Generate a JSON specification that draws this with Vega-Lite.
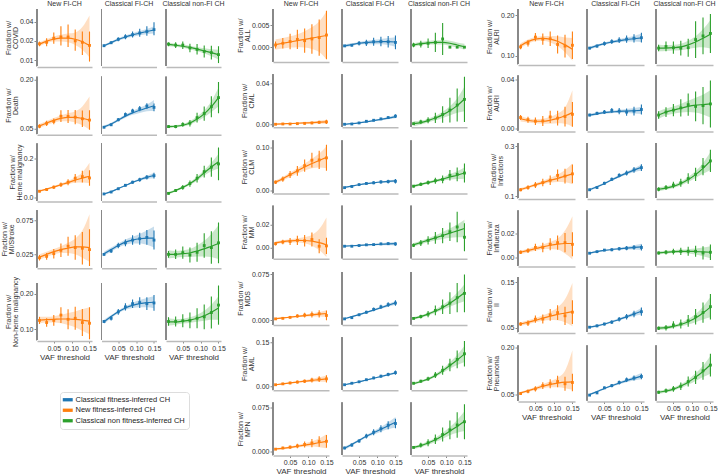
{
"$schema":"https://vega.github.io/schema/vega-lite/v6.json",
"padding":{"left":0,"top":0,"right":0,"bottom":0},
"datasets":{"d":[
{"o":"COVID","g":"N","x":0.01,"y":0.018,"l":0.0165,"h":0.0195,"f":0.0178,"a":0.0165,"b":0.019},
{"o":"COVID","g":"N","x":0.03,"y":0.019,"l":0.0165,"h":0.022,"f":0.0198,"a":0.0185,"b":0.0212},
{"o":"COVID","g":"N","x":0.05,"y":0.022,"l":0.018,"h":0.027,"f":0.0213,"a":0.0195,"b":0.0235},
{"o":"COVID","g":"N","x":0.07,"y":0.023,"l":0.017,"h":0.034,"f":0.0221,"a":0.0195,"b":0.025},
{"o":"COVID","g":"N","x":0.09,"y":0.023,"l":0.016,"h":0.036,"f":0.0221,"a":0.019,"b":0.026},
{"o":"COVID","g":"N","x":0.11,"y":0.02,"l":0.014,"h":0.03,"f":0.0212,"a":0.0172,"b":0.027},
{"o":"COVID","g":"N","x":0.13,"y":0.019,"l":0.012,"h":0.028,"f":0.0194,"a":0.0145,"b":0.033},
{"o":"COVID","g":"N","x":0.15,"y":0.017,"l":0.0095,"h":0.028,"f":0.017,"a":0.011,"b":0.05},
{"o":"COVID","g":"C","x":0.01,"y":0.0168,"l":0.016,"h":0.0176,"f":0.0168,"a":0.016,"b":0.0176},
{"o":"COVID","g":"C","x":0.03,"y":0.0187,"l":0.0178,"h":0.0197,"f":0.0188,"a":0.018,"b":0.0196},
{"o":"COVID","g":"C","x":0.05,"y":0.0212,"l":0.0198,"h":0.0228,"f":0.021,"a":0.0201,"b":0.022},
{"o":"COVID","g":"C","x":0.07,"y":0.0232,"l":0.0213,"h":0.0255,"f":0.023,"a":0.0218,"b":0.0243},
{"o":"COVID","g":"C","x":0.09,"y":0.025,"l":0.0225,"h":0.028,"f":0.0248,"a":0.0233,"b":0.0264},
{"o":"COVID","g":"C","x":0.11,"y":0.0265,"l":0.0232,"h":0.031,"f":0.0264,"a":0.0245,"b":0.0285},
{"o":"COVID","g":"C","x":0.13,"y":0.028,"l":0.024,"h":0.034,"f":0.028,"a":0.0255,"b":0.0308},
{"o":"COVID","g":"C","x":0.15,"y":0.03,"l":0.0245,"h":0.039,"f":0.0296,"a":0.026,"b":0.034},
{"o":"COVID","g":"X","x":0.01,"y":0.0178,"l":0.0165,"h":0.019,"f":0.0176,"a":0.0165,"b":0.0188},
{"o":"COVID","g":"X","x":0.03,"y":0.0172,"l":0.0155,"h":0.019,"f":0.0171,"a":0.0162,"b":0.018},
{"o":"COVID","g":"X","x":0.05,"y":0.0172,"l":0.015,"h":0.0195,"f":0.0165,"a":0.0156,"b":0.0175},
{"o":"COVID","g":"X","x":0.07,"y":0.0155,"l":0.0133,"h":0.018,"f":0.0158,"a":0.0148,"b":0.0168},
{"o":"COVID","g":"X","x":0.09,"y":0.0147,"l":0.0122,"h":0.0178,"f":0.0149,"a":0.0138,"b":0.016},
{"o":"COVID","g":"X","x":0.11,"y":0.0137,"l":0.011,"h":0.017,"f":0.014,"a":0.0127,"b":0.0153},
{"o":"COVID","g":"X","x":0.13,"y":0.0131,"l":0.0102,"h":0.0168,"f":0.0131,"a":0.0115,"b":0.0148},
{"o":"COVID","g":"X","x":0.15,"y":0.0122,"l":0.009,"h":0.0165,"f":0.0122,"a":0.0102,"b":0.0145},
{"o":"Death","g":"N","x":0.01,"y":0.057,"l":0.051,"h":0.063,"f":0.058,"a":0.052,"b":0.064},
{"o":"Death","g":"N","x":0.03,"y":0.066,"l":0.058,"h":0.074,"f":0.067,"a":0.061,"b":0.073},
{"o":"Death","g":"N","x":0.05,"y":0.072,"l":0.063,"h":0.081,"f":0.075,"a":0.068,"b":0.082},
{"o":"Death","g":"N","x":0.07,"y":0.088,"l":0.07,"h":0.106,"f":0.081,"a":0.072,"b":0.09},
{"o":"Death","g":"N","x":0.09,"y":0.087,"l":0.067,"h":0.107,"f":0.084,"a":0.072,"b":0.097},
{"o":"Death","g":"N","x":0.11,"y":0.085,"l":0.063,"h":0.107,"f":0.084,"a":0.068,"b":0.103},
{"o":"Death","g":"N","x":0.13,"y":0.08,"l":0.055,"h":0.105,"f":0.081,"a":0.06,"b":0.118},
{"o":"Death","g":"N","x":0.15,"y":0.076,"l":0.046,"h":0.106,"f":0.076,"a":0.046,"b":0.148},
{"o":"Death","g":"C","x":0.01,"y":0.054,"l":0.051,"h":0.057,"f":0.055,"a":0.051,"b":0.059},
{"o":"Death","g":"C","x":0.03,"y":0.0615,"l":0.0575,"h":0.0655,"f":0.064,"a":0.06,"b":0.068},
{"o":"Death","g":"C","x":0.05,"y":0.077,"l":0.072,"h":0.082,"f":0.076,"a":0.072,"b":0.08},
{"o":"Death","g":"C","x":0.07,"y":0.093,"l":0.087,"h":0.099,"f":0.088,"a":0.083,"b":0.093},
{"o":"Death","g":"C","x":0.09,"y":0.104,"l":0.097,"h":0.111,"f":0.098,"a":0.092,"b":0.104},
{"o":"Death","g":"C","x":0.11,"y":0.111,"l":0.103,"h":0.119,"f":0.106,"a":0.098,"b":0.114},
{"o":"Death","g":"C","x":0.13,"y":0.119,"l":0.11,"h":0.128,"f":0.113,"a":0.103,"b":0.124},
{"o":"Death","g":"C","x":0.15,"y":0.115,"l":0.103,"h":0.127,"f":0.12,"a":0.104,"b":0.138},
{"o":"Death","g":"X","x":0.01,"y":0.056,"l":0.052,"h":0.06,"f":0.056,"a":0.051,"b":0.061},
{"o":"Death","g":"X","x":0.03,"y":0.056,"l":0.051,"h":0.061,"f":0.057,"a":0.053,"b":0.061},
{"o":"Death","g":"X","x":0.05,"y":0.0625,"l":0.0555,"h":0.0695,"f":0.06,"a":0.056,"b":0.064},
{"o":"Death","g":"X","x":0.07,"y":0.0665,"l":0.0565,"h":0.0765,"f":0.067,"a":0.062,"b":0.073},
{"o":"Death","g":"X","x":0.09,"y":0.0835,"l":0.0685,"h":0.0985,"f":0.079,"a":0.072,"b":0.087},
{"o":"Death","g":"X","x":0.11,"y":0.096,"l":0.074,"h":0.118,"f":0.095,"a":0.085,"b":0.106},
{"o":"Death","g":"X","x":0.13,"y":0.117,"l":0.085,"h":0.149,"f":0.117,"a":0.101,"b":0.134},
{"o":"Death","g":"X","x":0.15,"y":0.145,"l":0.097,"h":0.193,"f":0.145,"a":0.118,"b":0.175},
{"o":"Heme","g":"N","x":0.01,"y":0.032,"l":0.027,"h":0.037,"f":0.033,"a":0.028,"b":0.038},
{"o":"Heme","g":"N","x":0.03,"y":0.041,"l":0.034,"h":0.048,"f":0.043,"a":0.038,"b":0.048},
{"o":"Heme","g":"N","x":0.05,"y":0.053,"l":0.044,"h":0.062,"f":0.054,"a":0.049,"b":0.059},
{"o":"Heme","g":"N","x":0.07,"y":0.066,"l":0.054,"h":0.078,"f":0.066,"a":0.06,"b":0.072},
{"o":"Heme","g":"N","x":0.09,"y":0.079,"l":0.063,"h":0.095,"f":0.077,"a":0.069,"b":0.086},
{"o":"Heme","g":"N","x":0.11,"y":0.1,"l":0.078,"h":0.122,"f":0.09,"a":0.076,"b":0.105},
{"o":"Heme","g":"N","x":0.13,"y":0.108,"l":0.078,"h":0.138,"f":0.1,"a":0.078,"b":0.13},
{"o":"Heme","g":"N","x":0.15,"y":0.101,"l":0.061,"h":0.141,"f":0.11,"a":0.075,"b":0.18},
{"o":"Heme","g":"C","x":0.01,"y":0.018,"l":0.015,"h":0.021,"f":0.018,"a":0.014,"b":0.022},
{"o":"Heme","g":"C","x":0.03,"y":0.028,"l":0.024,"h":0.032,"f":0.03,"a":0.027,"b":0.033},
{"o":"Heme","g":"C","x":0.05,"y":0.045,"l":0.04,"h":0.05,"f":0.046,"a":0.043,"b":0.049},
{"o":"Heme","g":"C","x":0.07,"y":0.063,"l":0.057,"h":0.069,"f":0.062,"a":0.059,"b":0.065},
{"o":"Heme","g":"C","x":0.09,"y":0.079,"l":0.071,"h":0.087,"f":0.078,"a":0.074,"b":0.082},
{"o":"Heme","g":"C","x":0.11,"y":0.092,"l":0.082,"h":0.102,"f":0.092,"a":0.086,"b":0.098},
{"o":"Heme","g":"C","x":0.13,"y":0.105,"l":0.093,"h":0.117,"f":0.104,"a":0.096,"b":0.112},
{"o":"Heme","g":"C","x":0.15,"y":0.113,"l":0.098,"h":0.128,"f":0.114,"a":0.1,"b":0.128},
{"o":"Heme","g":"X","x":0.01,"y":0.021,"l":0.015,"h":0.027,"f":0.022,"a":0.016,"b":0.028},
{"o":"Heme","g":"X","x":0.03,"y":0.036,"l":0.028,"h":0.044,"f":0.036,"a":0.031,"b":0.041},
{"o":"Heme","g":"X","x":0.05,"y":0.052,"l":0.04,"h":0.064,"f":0.052,"a":0.046,"b":0.058},
{"o":"Heme","g":"X","x":0.07,"y":0.072,"l":0.056,"h":0.088,"f":0.072,"a":0.064,"b":0.08},
{"o":"Heme","g":"X","x":0.09,"y":0.1,"l":0.078,"h":0.122,"f":0.097,"a":0.087,"b":0.107},
{"o":"Heme","g":"X","x":0.11,"y":0.134,"l":0.104,"h":0.164,"f":0.128,"a":0.114,"b":0.142},
{"o":"Heme","g":"X","x":0.13,"y":0.157,"l":0.107,"h":0.207,"f":0.158,"a":0.136,"b":0.18},
{"o":"Heme","g":"X","x":0.15,"y":0.174,"l":0.089,"h":0.259,"f":0.185,"a":0.15,"b":0.225},
{"o":"MI","g":"N","x":0.01,"y":0.02,"l":0.016,"h":0.024,"f":0.021,"a":0.017,"b":0.025},
{"o":"MI","g":"N","x":0.03,"y":0.022,"l":0.017,"h":0.027,"f":0.025,"a":0.021,"b":0.029},
{"o":"MI","g":"N","x":0.05,"y":0.026,"l":0.019,"h":0.033,"f":0.029,"a":0.025,"b":0.033},
{"o":"MI","g":"N","x":0.07,"y":0.031,"l":0.021,"h":0.041,"f":0.032,"a":0.027,"b":0.037},
{"o":"MI","g":"N","x":0.09,"y":0.037,"l":0.023,"h":0.051,"f":0.034,"a":0.027,"b":0.042},
{"o":"MI","g":"N","x":0.11,"y":0.035,"l":0.017,"h":0.053,"f":0.036,"a":0.025,"b":0.048},
{"o":"MI","g":"N","x":0.13,"y":0.034,"l":0.01,"h":0.058,"f":0.036,"a":0.02,"b":0.06},
{"o":"MI","g":"N","x":0.15,"y":0.032,"l":0.008,"h":0.062,"f":0.035,"a":0.014,"b":0.084},
{"o":"MI","g":"C","x":0.01,"y":0.025,"l":0.023,"h":0.027,"f":0.026,"a":0.023,"b":0.029},
{"o":"MI","g":"C","x":0.03,"y":0.03,"l":0.027,"h":0.033,"f":0.032,"a":0.029,"b":0.035},
{"o":"MI","g":"C","x":0.05,"y":0.038,"l":0.034,"h":0.042,"f":0.038,"a":0.035,"b":0.041},
{"o":"MI","g":"C","x":0.07,"y":0.042,"l":0.037,"h":0.047,"f":0.043,"a":0.039,"b":0.047},
{"o":"MI","g":"C","x":0.09,"y":0.046,"l":0.039,"h":0.053,"f":0.046,"a":0.041,"b":0.051},
{"o":"MI","g":"C","x":0.11,"y":0.048,"l":0.039,"h":0.057,"f":0.048,"a":0.041,"b":0.055},
{"o":"MI","g":"C","x":0.13,"y":0.05,"l":0.039,"h":0.061,"f":0.049,"a":0.039,"b":0.06},
{"o":"MI","g":"C","x":0.15,"y":0.046,"l":0.032,"h":0.06,"f":0.049,"a":0.035,"b":0.066},
{"o":"MI","g":"X","x":0.01,"y":0.025,"l":0.02,"h":0.03,"f":0.025,"a":0.019,"b":0.031},
{"o":"MI","g":"X","x":0.03,"y":0.025,"l":0.018,"h":0.032,"f":0.025,"a":0.02,"b":0.03},
{"o":"MI","g":"X","x":0.05,"y":0.0275,"l":0.0185,"h":0.0365,"f":0.026,"a":0.021,"b":0.031},
{"o":"MI","g":"X","x":0.07,"y":0.024,"l":0.013,"h":0.035,"f":0.027,"a":0.021,"b":0.033},
{"o":"MI","g":"X","x":0.09,"y":0.028,"l":0.014,"h":0.042,"f":0.03,"a":0.022,"b":0.038},
{"o":"MI","g":"X","x":0.11,"y":0.038,"l":0.02,"h":0.056,"f":0.033,"a":0.022,"b":0.045},
{"o":"MI","g":"X","x":0.13,"y":0.035,"l":0.011,"h":0.059,"f":0.037,"a":0.021,"b":0.055},
{"o":"MI","g":"X","x":0.15,"y":0.042,"l":0.012,"h":0.072,"f":0.041,"a":0.018,"b":0.068},
{"o":"NonHeme","g":"N","x":0.01,"y":0.125,"l":0.115,"h":0.135,"f":0.126,"a":0.117,"b":0.135},
{"o":"NonHeme","g":"N","x":0.03,"y":0.119,"l":0.107,"h":0.131,"f":0.127,"a":0.119,"b":0.135},
{"o":"NonHeme","g":"N","x":0.05,"y":0.125,"l":0.11,"h":0.14,"f":0.128,"a":0.119,"b":0.137},
{"o":"NonHeme","g":"N","x":0.07,"y":0.14,"l":0.118,"h":0.162,"f":0.129,"a":0.117,"b":0.141},
{"o":"NonHeme","g":"N","x":0.09,"y":0.128,"l":0.1,"h":0.156,"f":0.129,"a":0.112,"b":0.146},
{"o":"NonHeme","g":"N","x":0.11,"y":0.131,"l":0.099,"h":0.163,"f":0.128,"a":0.106,"b":0.15},
{"o":"NonHeme","g":"N","x":0.13,"y":0.119,"l":0.081,"h":0.157,"f":0.126,"a":0.096,"b":0.156},
{"o":"NonHeme","g":"N","x":0.15,"y":0.117,"l":0.072,"h":0.162,"f":0.123,"a":0.086,"b":0.162},
{"o":"NonHeme","g":"C","x":0.01,"y":0.122,"l":0.118,"h":0.126,"f":0.121,"a":0.115,"b":0.127},
{"o":"NonHeme","g":"C","x":0.03,"y":0.131,"l":0.125,"h":0.137,"f":0.136,"a":0.132,"b":0.14},
{"o":"NonHeme","g":"C","x":0.05,"y":0.149,"l":0.141,"h":0.157,"f":0.149,"a":0.145,"b":0.153},
{"o":"NonHeme","g":"C","x":0.07,"y":0.163,"l":0.153,"h":0.173,"f":0.16,"a":0.155,"b":0.165},
{"o":"NonHeme","g":"C","x":0.09,"y":0.172,"l":0.16,"h":0.184,"f":0.167,"a":0.16,"b":0.174},
{"o":"NonHeme","g":"C","x":0.11,"y":0.175,"l":0.16,"h":0.19,"f":0.172,"a":0.162,"b":0.182},
{"o":"NonHeme","g":"C","x":0.13,"y":0.172,"l":0.154,"h":0.19,"f":0.175,"a":0.162,"b":0.188},
{"o":"NonHeme","g":"C","x":0.15,"y":0.174,"l":0.152,"h":0.196,"f":0.176,"a":0.159,"b":0.193},
{"o":"NonHeme","g":"X","x":0.01,"y":0.122,"l":0.11,"h":0.134,"f":0.121,"a":0.111,"b":0.131},
{"o":"NonHeme","g":"X","x":0.03,"y":0.122,"l":0.108,"h":0.136,"f":0.121,"a":0.113,"b":0.129},
{"o":"NonHeme","g":"X","x":0.05,"y":0.124,"l":0.106,"h":0.142,"f":0.123,"a":0.116,"b":0.13},
{"o":"NonHeme","g":"X","x":0.07,"y":0.125,"l":0.103,"h":0.147,"f":0.126,"a":0.118,"b":0.134},
{"o":"NonHeme","g":"X","x":0.09,"y":0.131,"l":0.103,"h":0.159,"f":0.131,"a":0.121,"b":0.141},
{"o":"NonHeme","g":"X","x":0.11,"y":0.135,"l":0.1,"h":0.17,"f":0.138,"a":0.124,"b":0.152},
{"o":"NonHeme","g":"X","x":0.13,"y":0.147,"l":0.102,"h":0.192,"f":0.148,"a":0.127,"b":0.169},
{"o":"NonHeme","g":"X","x":0.15,"y":0.168,"l":0.113,"h":0.223,"f":0.16,"a":0.127,"b":0.193},
{"o":"ALL","g":"N","x":0.01,"y":0.0005,"l":-0.0003,"h":0.0013,"f":0.0006,"a":-0.0006,"b":0.0018},
{"o":"ALL","g":"N","x":0.03,"y":0.0009,"l":-0.0003,"h":0.0021,"f":0.0009,"a":-0.0003,"b":0.0021},
{"o":"ALL","g":"N","x":0.05,"y":0.0013,"l":-0.0005,"h":0.0031,"f":0.0012,"a":-0.0001,"b":0.0025},
{"o":"ALL","g":"N","x":0.07,"y":0.0018,"l":-0.0004,"h":0.004,"f":0.0015,"a":0.0,"b":0.003},
{"o":"ALL","g":"N","x":0.09,"y":0.0015,"l":-0.0013,"h":0.0043,"f":0.0018,"a":-0.0001,"b":0.0037},
{"o":"ALL","g":"N","x":0.11,"y":0.0019,"l":-0.0015,"h":0.0053,"f":0.0021,"a":-0.0004,"b":0.0046},
{"o":"ALL","g":"N","x":0.13,"y":0.0022,"l":-0.002,"h":0.0064,"f":0.0024,"a":-0.0011,"b":0.0059},
{"o":"ALL","g":"N","x":0.15,"y":0.0028,"l":-0.0028,"h":0.0084,"f":0.0027,"a":-0.0028,"b":0.0082},
{"o":"ALL","g":"C","x":0.01,"y":0.0003,"l":0.0001,"h":0.0005,"f":0.0003,"a":-0.0001,"b":0.0007},
{"o":"ALL","g":"C","x":0.03,"y":0.00045,"l":0.00015,"h":0.00075,"f":0.0006,"a":0.0003,"b":0.0009},
{"o":"ALL","g":"C","x":0.05,"y":0.0009,"l":0.0004,"h":0.0014,"f":0.0009,"a":0.0006,"b":0.0012},
{"o":"ALL","g":"C","x":0.07,"y":0.001,"l":0.0003,"h":0.0017,"f":0.0011,"a":0.0007,"b":0.0015},
{"o":"ALL","g":"C","x":0.09,"y":0.00125,"l":0.00035,"h":0.00215,"f":0.0012,"a":0.0007,"b":0.0017},
{"o":"ALL","g":"C","x":0.11,"y":0.0013,"l":0.0002,"h":0.0024,"f":0.0013,"a":0.0007,"b":0.0019},
{"o":"ALL","g":"C","x":0.13,"y":0.00125,"l":-0.00005,"h":0.00255,"f":0.0013,"a":0.0005,"b":0.0021},
{"o":"ALL","g":"C","x":0.15,"y":0.0011,"l":-0.0005,"h":0.0027,"f":0.0012,"a":0.0001,"b":0.0023},
{"o":"ALL","g":"X","x":0.01,"y":0.0005,"l":0.0,"h":0.001,"f":0.0005,"a":0.0001,"b":0.0009},
{"o":"ALL","g":"X","x":0.03,"y":0.0007,"l":-0.0001,"h":0.0015,"f":0.0008,"a":0.0004,"b":0.0012},
{"o":"ALL","g":"X","x":0.05,"y":0.0009,"l":-0.0002,"h":0.002,"f":0.001,"a":0.0006,"b":0.0014},
{"o":"ALL","g":"X","x":0.07,"y":0.0011,"l":-0.0011,"h":0.0033,"f":0.0011,"a":0.0006,"b":0.0016},
{"o":"ALL","g":"X","x":0.09,"y":0.0019,"l":-0.0018,"h":0.0056,"f":0.0011,"a":0.0006,"b":0.0016},
{"o":"ALL","g":"X","x":0.11,"y":0.0,"l":0.0,"h":0.0,"f":0.0009,"a":0.0003,"b":0.0015},
{"o":"ALL","g":"X","x":0.13,"y":0.0,"l":0.0,"h":0.0,"f":0.0005,"a":-0.0001,"b":0.0011},
{"o":"ALL","g":"X","x":0.15,"y":0.0,"l":0.0,"h":0.0,"f":0.0001,"a":-0.0006,"b":0.0008},
{"o":"CML","g":"N","x":0.01,"y":0.0004,"l":0.0001,"h":0.0007,"f":0.0005,"a":0.0,"b":0.001},
{"o":"CML","g":"N","x":0.03,"y":0.0007,"l":0.0003,"h":0.0011,"f":0.0008,"a":0.0004,"b":0.0012},
{"o":"CML","g":"N","x":0.05,"y":0.0007,"l":0.0001,"h":0.0013,"f":0.0011,"a":0.0006,"b":0.0016},
{"o":"CML","g":"N","x":0.07,"y":0.001,"l":0.0002,"h":0.0018,"f":0.0014,"a":0.0008,"b":0.002},
{"o":"CML","g":"N","x":0.09,"y":0.0013,"l":0.0003,"h":0.0023,"f":0.0017,"a":0.0009,"b":0.0025},
{"o":"CML","g":"N","x":0.11,"y":0.0017,"l":0.0005,"h":0.0029,"f":0.002,"a":0.001,"b":0.003},
{"o":"CML","g":"N","x":0.13,"y":0.0023,"l":0.0008,"h":0.0038,"f":0.0024,"a":0.001,"b":0.0038},
{"o":"CML","g":"N","x":0.15,"y":0.0027,"l":0.0007,"h":0.0047,"f":0.0028,"a":0.0008,"b":0.0048},
{"o":"CML","g":"C","x":0.01,"y":0.0004,"l":0.0002,"h":0.0006,"f":0.0004,"a":0.0,"b":0.0008},
{"o":"CML","g":"C","x":0.03,"y":0.0007,"l":0.0004,"h":0.001,"f":0.001,"a":0.0006,"b":0.0014},
{"o":"CML","g":"C","x":0.05,"y":0.0017,"l":0.0012,"h":0.0022,"f":0.0018,"a":0.0014,"b":0.0022},
{"o":"CML","g":"C","x":0.07,"y":0.0033,"l":0.0026,"h":0.004,"f":0.0028,"a":0.0023,"b":0.0033},
{"o":"CML","g":"C","x":0.09,"y":0.0043,"l":0.0034,"h":0.0052,"f":0.0039,"a":0.0033,"b":0.0045},
{"o":"CML","g":"C","x":0.11,"y":0.0056,"l":0.0045,"h":0.0067,"f":0.0051,"a":0.0043,"b":0.0059},
{"o":"CML","g":"C","x":0.13,"y":0.0069,"l":0.0055,"h":0.0083,"f":0.0064,"a":0.0053,"b":0.0075},
{"o":"CML","g":"C","x":0.15,"y":0.0083,"l":0.0065,"h":0.0101,"f":0.0079,"a":0.0063,"b":0.0095},
{"o":"CML","g":"X","x":0.01,"y":0.001,"l":0.0,"h":0.002,"f":0.001,"a":-0.0015,"b":0.0035},
{"o":"CML","g":"X","x":0.03,"y":0.0027,"l":0.0007,"h":0.0047,"f":0.002,"a":0.0002,"b":0.0038},
{"o":"CML","g":"X","x":0.05,"y":0.0043,"l":0.0013,"h":0.0073,"f":0.004,"a":0.0022,"b":0.0058},
{"o":"CML","g":"X","x":0.07,"y":0.0066,"l":0.0016,"h":0.0116,"f":0.0065,"a":0.0043,"b":0.0087},
{"o":"CML","g":"X","x":0.09,"y":0.0099,"l":0.0019,"h":0.0179,"f":0.0095,"a":0.0065,"b":0.0125},
{"o":"CML","g":"X","x":0.11,"y":0.0142,"l":0.0022,"h":0.0262,"f":0.0135,"a":0.009,"b":0.018},
{"o":"CML","g":"X","x":0.13,"y":0.0191,"l":0.0031,"h":0.0351,"f":0.0185,"a":0.0115,"b":0.0255},
{"o":"CML","g":"X","x":0.15,"y":0.0246,"l":0.0026,"h":0.0466,"f":0.025,"a":0.013,"b":0.037},
{"o":"CLM","g":"N","x":0.01,"y":0.019,"l":0.015,"h":0.023,"f":0.019,"a":0.015,"b":0.023},
{"o":"CLM","g":"N","x":0.03,"y":0.026,"l":0.02,"h":0.032,"f":0.027,"a":0.023,"b":0.031},
{"o":"CLM","g":"N","x":0.05,"y":0.0365,"l":0.0285,"h":0.0445,"f":0.036,"a":0.031,"b":0.041},
{"o":"CLM","g":"N","x":0.07,"y":0.045,"l":0.034,"h":0.056,"f":0.045,"a":0.039,"b":0.051},
{"o":"CLM","g":"N","x":0.09,"y":0.057,"l":0.043,"h":0.071,"f":0.054,"a":0.046,"b":0.062},
{"o":"CLM","g":"N","x":0.11,"y":0.0696,"l":0.0526,"h":0.0866,"f":0.062,"a":0.051,"b":0.073},
{"o":"CLM","g":"N","x":0.13,"y":0.0703,"l":0.0493,"h":0.0913,"f":0.069,"a":0.053,"b":0.085},
{"o":"CLM","g":"N","x":0.15,"y":0.075,"l":0.045,"h":0.105,"f":0.076,"a":0.051,"b":0.101},
{"o":"CLM","g":"C","x":0.01,"y":0.0063,"l":0.0048,"h":0.0078,"f":0.007,"a":0.0055,"b":0.0085},
{"o":"CLM","g":"C","x":0.03,"y":0.009,"l":0.007,"h":0.011,"f":0.01,"a":0.0088,"b":0.0112},
{"o":"CLM","g":"C","x":0.05,"y":0.0133,"l":0.0108,"h":0.0158,"f":0.013,"a":0.0118,"b":0.0142},
{"o":"CLM","g":"C","x":0.07,"y":0.016,"l":0.013,"h":0.019,"f":0.0155,"a":0.0142,"b":0.0168},
{"o":"CLM","g":"C","x":0.09,"y":0.0175,"l":0.014,"h":0.021,"f":0.0175,"a":0.016,"b":0.019},
{"o":"CLM","g":"C","x":0.11,"y":0.0196,"l":0.0156,"h":0.0236,"f":0.0193,"a":0.0175,"b":0.0211},
{"o":"CLM","g":"C","x":0.13,"y":0.0203,"l":0.0158,"h":0.0248,"f":0.0207,"a":0.0185,"b":0.0229},
{"o":"CLM","g":"C","x":0.15,"y":0.0211,"l":0.0161,"h":0.0261,"f":0.022,"a":0.019,"b":0.025},
{"o":"CLM","g":"X","x":0.01,"y":0.0097,"l":0.0067,"h":0.0127,"f":0.01,"a":0.007,"b":0.013},
{"o":"CLM","g":"X","x":0.03,"y":0.014,"l":0.01,"h":0.018,"f":0.014,"a":0.0115,"b":0.0165},
{"o":"CLM","g":"X","x":0.05,"y":0.018,"l":0.013,"h":0.023,"f":0.018,"a":0.0155,"b":0.0205},
{"o":"CLM","g":"X","x":0.07,"y":0.0224,"l":0.0154,"h":0.0294,"f":0.022,"a":0.019,"b":0.025},
{"o":"CLM","g":"X","x":0.09,"y":0.0253,"l":0.0163,"h":0.0343,"f":0.026,"a":0.022,"b":0.03},
{"o":"CLM","g":"X","x":0.11,"y":0.035,"l":0.023,"h":0.047,"f":0.031,"a":0.025,"b":0.037},
{"o":"CLM","g":"X","x":0.13,"y":0.037,"l":0.021,"h":0.053,"f":0.035,"a":0.026,"b":0.044},
{"o":"CLM","g":"X","x":0.15,"y":0.04,"l":0.018,"h":0.062,"f":0.04,"a":0.027,"b":0.053},
{"o":"MM","g":"N","x":0.01,"y":0.0035,"l":0.002,"h":0.005,"f":0.0042,"a":0.0028,"b":0.0057},
{"o":"MM","g":"N","x":0.03,"y":0.0049,"l":0.0029,"h":0.0069,"f":0.0052,"a":0.004,"b":0.0065},
{"o":"MM","g":"N","x":0.05,"y":0.0054,"l":0.0024,"h":0.0084,"f":0.0059,"a":0.0045,"b":0.0073},
{"o":"MM","g":"N","x":0.07,"y":0.0063,"l":0.0023,"h":0.0103,"f":0.0063,"a":0.0046,"b":0.0082},
{"o":"MM","g":"N","x":0.09,"y":0.006,"l":0.001,"h":0.011,"f":0.0062,"a":0.0038,"b":0.0092},
{"o":"MM","g":"N","x":0.11,"y":0.0071,"l":0.0011,"h":0.0131,"f":0.0056,"a":0.0018,"b":0.011},
{"o":"MM","g":"N","x":0.13,"y":0.0013,"l":-0.0047,"h":0.0073,"f":0.0044,"a":-0.002,"b":0.016},
{"o":"MM","g":"N","x":0.15,"y":0.0016,"l":-0.0054,"h":0.0086,"f":0.0025,"a":-0.008,"b":0.026},
{"o":"MM","g":"C","x":0.01,"y":0.0013,"l":0.0009,"h":0.0017,"f":0.0014,"a":0.0009,"b":0.0019},
{"o":"MM","g":"C","x":0.03,"y":0.0013,"l":0.0008,"h":0.0018,"f":0.0017,"a":0.0013,"b":0.0021},
{"o":"MM","g":"C","x":0.05,"y":0.0019,"l":0.0013,"h":0.0025,"f":0.002,"a":0.0016,"b":0.0024},
{"o":"MM","g":"C","x":0.07,"y":0.0025,"l":0.0018,"h":0.0032,"f":0.0024,"a":0.0019,"b":0.0029},
{"o":"MM","g":"C","x":0.09,"y":0.0027,"l":0.0019,"h":0.0035,"f":0.0027,"a":0.0021,"b":0.0033},
{"o":"MM","g":"C","x":0.11,"y":0.0033,"l":0.0023,"h":0.0043,"f":0.003,"a":0.0022,"b":0.0038},
{"o":"MM","g":"C","x":0.13,"y":0.0035,"l":0.0023,"h":0.0047,"f":0.0033,"a":0.0022,"b":0.0044},
{"o":"MM","g":"C","x":0.15,"y":0.0033,"l":0.0018,"h":0.0048,"f":0.0036,"a":0.002,"b":0.0052},
{"o":"MM","g":"X","x":0.01,"y":0.0021,"l":0.0006,"h":0.0036,"f":0.0025,"a":0.001,"b":0.004},
{"o":"MM","g":"X","x":0.03,"y":0.0041,"l":0.0016,"h":0.0066,"f":0.0045,"a":0.003,"b":0.006},
{"o":"MM","g":"X","x":0.05,"y":0.0063,"l":0.0028,"h":0.0098,"f":0.0065,"a":0.0048,"b":0.0082},
{"o":"MM","g":"X","x":0.07,"y":0.0085,"l":0.0035,"h":0.0135,"f":0.0085,"a":0.0063,"b":0.0107},
{"o":"MM","g":"X","x":0.09,"y":0.0104,"l":0.0039,"h":0.0169,"f":0.0105,"a":0.0075,"b":0.0135},
{"o":"MM","g":"X","x":0.11,"y":0.0137,"l":0.0057,"h":0.0217,"f":0.0125,"a":0.0085,"b":0.0165},
{"o":"MM","g":"X","x":0.13,"y":0.0178,"l":0.0048,"h":0.0308,"f":0.0145,"a":0.009,"b":0.02},
{"o":"MM","g":"X","x":0.15,"y":0.009,"l":-0.003,"h":0.021,"f":0.0165,"a":0.009,"b":0.024},
{"o":"MDS","g":"N","x":0.01,"y":0.0022,"l":0.0012,"h":0.0032,"f":0.0025,"a":0.0013,"b":0.0037},
{"o":"MDS","g":"N","x":0.03,"y":0.0031,"l":0.0016,"h":0.0046,"f":0.0037,"a":0.0027,"b":0.0047},
{"o":"MDS","g":"N","x":0.05,"y":0.0047,"l":0.0027,"h":0.0067,"f":0.005,"a":0.004,"b":0.006},
{"o":"MDS","g":"N","x":0.07,"y":0.0069,"l":0.0039,"h":0.0099,"f":0.0063,"a":0.0051,"b":0.0075},
{"o":"MDS","g":"N","x":0.09,"y":0.0084,"l":0.0044,"h":0.0124,"f":0.0076,"a":0.0059,"b":0.0093},
{"o":"MDS","g":"N","x":0.11,"y":0.0094,"l":0.0044,"h":0.0144,"f":0.0088,"a":0.0063,"b":0.0113},
{"o":"MDS","g":"N","x":0.13,"y":0.0105,"l":0.0045,"h":0.0165,"f":0.0099,"a":0.0062,"b":0.0136},
{"o":"MDS","g":"N","x":0.15,"y":0.0078,"l":-0.0002,"h":0.0158,"f":0.011,"a":0.0055,"b":0.0165},
{"o":"MDS","g":"C","x":0.01,"y":0.0022,"l":0.0012,"h":0.0032,"f":0.0025,"a":0.001,"b":0.004},
{"o":"MDS","g":"C","x":0.03,"y":0.0042,"l":0.0027,"h":0.0057,"f":0.0058,"a":0.0046,"b":0.007},
{"o":"MDS","g":"C","x":0.05,"y":0.0089,"l":0.0069,"h":0.0109,"f":0.0092,"a":0.008,"b":0.0104},
{"o":"MDS","g":"C","x":0.07,"y":0.0131,"l":0.0106,"h":0.0156,"f":0.0128,"a":0.0115,"b":0.0141},
{"o":"MDS","g":"C","x":0.09,"y":0.0178,"l":0.0148,"h":0.0208,"f":0.0166,"a":0.0151,"b":0.0181},
{"o":"MDS","g":"C","x":0.11,"y":0.0219,"l":0.0184,"h":0.0254,"f":0.0205,"a":0.0187,"b":0.0223},
{"o":"MDS","g":"C","x":0.13,"y":0.0256,"l":0.0216,"h":0.0296,"f":0.0245,"a":0.0222,"b":0.0268},
{"o":"MDS","g":"C","x":0.15,"y":0.0281,"l":0.0236,"h":0.0326,"f":0.0285,"a":0.0255,"b":0.0315},
{"o":"MDS","g":"X","x":0.01,"y":0.003,"l":0.0015,"h":0.0045,"f":0.003,"a":0.0008,"b":0.0052},
{"o":"MDS","g":"X","x":0.03,"y":0.006,"l":0.003,"h":0.009,"f":0.006,"a":0.004,"b":0.008},
{"o":"MDS","g":"X","x":0.05,"y":0.01,"l":0.005,"h":0.015,"f":0.01,"a":0.0078,"b":0.0122},
{"o":"MDS","g":"X","x":0.07,"y":0.016,"l":0.008,"h":0.024,"f":0.015,"a":0.012,"b":0.018},
{"o":"MDS","g":"X","x":0.09,"y":0.022,"l":0.01,"h":0.034,"f":0.021,"a":0.017,"b":0.025},
{"o":"MDS","g":"X","x":0.11,"y":0.028,"l":0.01,"h":0.046,"f":0.028,"a":0.022,"b":0.034},
{"o":"MDS","g":"X","x":0.13,"y":0.037,"l":0.013,"h":0.061,"f":0.036,"a":0.027,"b":0.045},
{"o":"MDS","g":"X","x":0.15,"y":0.044,"l":0.013,"h":0.075,"f":0.045,"a":0.031,"b":0.059},
{"o":"AML","g":"N","x":0.01,"y":0.006,"l":0.004,"h":0.008,"f":0.006,"a":0.004,"b":0.008},
{"o":"AML","g":"N","x":0.03,"y":0.009,"l":0.006,"h":0.012,"f":0.009,"a":0.007,"b":0.011},
{"o":"AML","g":"N","x":0.05,"y":0.012,"l":0.008,"h":0.016,"f":0.012,"a":0.01,"b":0.014},
{"o":"AML","g":"N","x":0.07,"y":0.015,"l":0.01,"h":0.02,"f":0.015,"a":0.0125,"b":0.0175},
{"o":"AML","g":"N","x":0.09,"y":0.018,"l":0.012,"h":0.024,"f":0.018,"a":0.0145,"b":0.0215},
{"o":"AML","g":"N","x":0.11,"y":0.022,"l":0.014,"h":0.03,"f":0.0205,"a":0.0155,"b":0.0255},
{"o":"AML","g":"N","x":0.13,"y":0.025,"l":0.015,"h":0.035,"f":0.0235,"a":0.016,"b":0.031},
{"o":"AML","g":"N","x":0.15,"y":0.026,"l":0.014,"h":0.038,"f":0.026,"a":0.015,"b":0.037},
{"o":"AML","g":"C","x":0.01,"y":0.006,"l":0.004,"h":0.008,"f":0.006,"a":0.004,"b":0.008},
{"o":"AML","g":"C","x":0.03,"y":0.011,"l":0.009,"h":0.013,"f":0.0105,"a":0.009,"b":0.012},
{"o":"AML","g":"C","x":0.05,"y":0.016,"l":0.013,"h":0.019,"f":0.016,"a":0.0145,"b":0.0175},
{"o":"AML","g":"C","x":0.07,"y":0.023,"l":0.02,"h":0.026,"f":0.022,"a":0.02,"b":0.024},
{"o":"AML","g":"C","x":0.09,"y":0.029,"l":0.025,"h":0.033,"f":0.028,"a":0.026,"b":0.03},
{"o":"AML","g":"C","x":0.11,"y":0.035,"l":0.03,"h":0.04,"f":0.034,"a":0.0315,"b":0.0365},
{"o":"AML","g":"C","x":0.13,"y":0.041,"l":0.035,"h":0.047,"f":0.04,"a":0.037,"b":0.043},
{"o":"AML","g":"C","x":0.15,"y":0.047,"l":0.04,"h":0.054,"f":0.046,"a":0.042,"b":0.05},
{"o":"AML","g":"X","x":0.01,"y":0.011,"l":0.008,"h":0.014,"f":0.01,"a":0.006,"b":0.014},
{"o":"AML","g":"X","x":0.03,"y":0.018,"l":0.013,"h":0.023,"f":0.017,"a":0.013,"b":0.021},
{"o":"AML","g":"X","x":0.05,"y":0.026,"l":0.019,"h":0.033,"f":0.025,"a":0.021,"b":0.029},
{"o":"AML","g":"X","x":0.07,"y":0.039,"l":0.029,"h":0.049,"f":0.037,"a":0.032,"b":0.042},
{"o":"AML","g":"X","x":0.09,"y":0.055,"l":0.04,"h":0.07,"f":0.053,"a":0.046,"b":0.06},
{"o":"AML","g":"X","x":0.11,"y":0.073,"l":0.052,"h":0.094,"f":0.071,"a":0.06,"b":0.082},
{"o":"AML","g":"X","x":0.13,"y":0.092,"l":0.062,"h":0.122,"f":0.09,"a":0.073,"b":0.107},
{"o":"AML","g":"X","x":0.15,"y":0.111,"l":0.068,"h":0.154,"f":0.11,"a":0.083,"b":0.137},
{"o":"MPN","g":"N","x":0.01,"y":0.004,"l":0.0025,"h":0.0055,"f":0.0045,"a":0.003,"b":0.006},
{"o":"MPN","g":"N","x":0.03,"y":0.006,"l":0.004,"h":0.008,"f":0.0055,"a":0.004,"b":0.007},
{"o":"MPN","g":"N","x":0.05,"y":0.0075,"l":0.0045,"h":0.0105,"f":0.007,"a":0.0053,"b":0.0087},
{"o":"MPN","g":"N","x":0.07,"y":0.0095,"l":0.0055,"h":0.0135,"f":0.009,"a":0.007,"b":0.011},
{"o":"MPN","g":"N","x":0.09,"y":0.012,"l":0.007,"h":0.017,"f":0.011,"a":0.008,"b":0.014},
{"o":"MPN","g":"N","x":0.11,"y":0.0145,"l":0.0075,"h":0.0215,"f":0.013,"a":0.0085,"b":0.0175},
{"o":"MPN","g":"N","x":0.13,"y":0.017,"l":0.008,"h":0.026,"f":0.015,"a":0.0075,"b":0.0225},
{"o":"MPN","g":"N","x":0.15,"y":0.0175,"l":0.0065,"h":0.0285,"f":0.0175,"a":0.0055,"b":0.0295},
{"o":"MPN","g":"C","x":0.01,"y":0.006,"l":0.004,"h":0.008,"f":0.0055,"a":0.0025,"b":0.0085},
{"o":"MPN","g":"C","x":0.03,"y":0.011,"l":0.008,"h":0.014,"f":0.012,"a":0.01,"b":0.014},
{"o":"MPN","g":"C","x":0.05,"y":0.018,"l":0.015,"h":0.021,"f":0.019,"a":0.017,"b":0.021},
{"o":"MPN","g":"C","x":0.07,"y":0.0265,"l":0.0225,"h":0.0305,"f":0.026,"a":0.024,"b":0.028},
{"o":"MPN","g":"C","x":0.09,"y":0.033,"l":0.028,"h":0.038,"f":0.032,"a":0.029,"b":0.035},
{"o":"MPN","g":"C","x":0.11,"y":0.039,"l":0.033,"h":0.045,"f":0.038,"a":0.034,"b":0.042},
{"o":"MPN","g":"C","x":0.13,"y":0.045,"l":0.038,"h":0.052,"f":0.044,"a":0.038,"b":0.05},
{"o":"MPN","g":"C","x":0.15,"y":0.048,"l":0.04,"h":0.056,"f":0.05,"a":0.041,"b":0.059},
{"o":"MPN","g":"X","x":0.01,"y":0.007,"l":0.005,"h":0.009,"f":0.007,"a":0.0045,"b":0.0095},
{"o":"MPN","g":"X","x":0.03,"y":0.011,"l":0.007,"h":0.015,"f":0.01,"a":0.0075,"b":0.0125},
{"o":"MPN","g":"X","x":0.05,"y":0.015,"l":0.009,"h":0.021,"f":0.0145,"a":0.0115,"b":0.0175},
{"o":"MPN","g":"X","x":0.07,"y":0.021,"l":0.013,"h":0.029,"f":0.02,"a":0.0165,"b":0.0235},
{"o":"MPN","g":"X","x":0.09,"y":0.029,"l":0.017,"h":0.041,"f":0.027,"a":0.022,"b":0.032},
{"o":"MPN","g":"X","x":0.11,"y":0.037,"l":0.021,"h":0.053,"f":0.035,"a":0.028,"b":0.042},
{"o":"MPN","g":"X","x":0.13,"y":0.0455,"l":0.0235,"h":0.0675,"f":0.043,"a":0.032,"b":0.054},
{"o":"MPN","g":"X","x":0.15,"y":0.051,"l":0.021,"h":0.081,"f":0.052,"a":0.035,"b":0.069},
{"o":"ALRI","g":"N","x":0.01,"y":0.122,"l":0.116,"h":0.128,"f":0.125,"a":0.119,"b":0.131},
{"o":"ALRI","g":"N","x":0.03,"y":0.131,"l":0.123,"h":0.139,"f":0.135,"a":0.13,"b":0.14},
{"o":"ALRI","g":"N","x":0.05,"y":0.146,"l":0.136,"h":0.156,"f":0.141,"a":0.136,"b":0.146},
{"o":"ALRI","g":"N","x":0.07,"y":0.141,"l":0.127,"h":0.155,"f":0.143,"a":0.137,"b":0.149},
{"o":"ALRI","g":"N","x":0.09,"y":0.142,"l":0.124,"h":0.16,"f":0.141,"a":0.133,"b":0.149},
{"o":"ALRI","g":"N","x":0.11,"y":0.128,"l":0.106,"h":0.15,"f":0.136,"a":0.124,"b":0.148},
{"o":"ALRI","g":"N","x":0.13,"y":0.124,"l":0.096,"h":0.152,"f":0.127,"a":0.109,"b":0.145},
{"o":"ALRI","g":"N","x":0.15,"y":0.126,"l":0.092,"h":0.16,"f":0.116,"a":0.088,"b":0.144},
{"o":"ALRI","g":"C","x":0.01,"y":0.119,"l":0.116,"h":0.122,"f":0.119,"a":0.115,"b":0.123},
{"o":"ALRI","g":"C","x":0.03,"y":0.124,"l":0.12,"h":0.128,"f":0.125,"a":0.122,"b":0.128},
{"o":"ALRI","g":"C","x":0.05,"y":0.13,"l":0.125,"h":0.135,"f":0.13,"a":0.127,"b":0.133},
{"o":"ALRI","g":"C","x":0.07,"y":0.135,"l":0.129,"h":0.141,"f":0.134,"a":0.131,"b":0.137},
{"o":"ALRI","g":"C","x":0.09,"y":0.1385,"l":0.1315,"h":0.1455,"f":0.137,"a":0.133,"b":0.141},
{"o":"ALRI","g":"C","x":0.11,"y":0.141,"l":0.132,"h":0.15,"f":0.14,"a":0.135,"b":0.145},
{"o":"ALRI","g":"C","x":0.13,"y":0.143,"l":0.133,"h":0.153,"f":0.142,"a":0.135,"b":0.149},
{"o":"ALRI","g":"C","x":0.15,"y":0.1445,"l":0.1325,"h":0.1565,"f":0.144,"a":0.134,"b":0.154},
{"o":"ALRI","g":"X","x":0.01,"y":0.119,"l":0.111,"h":0.127,"f":0.119,"a":0.111,"b":0.127},
{"o":"ALRI","g":"X","x":0.03,"y":0.123,"l":0.111,"h":0.135,"f":0.119,"a":0.112,"b":0.126},
{"o":"ALRI","g":"X","x":0.05,"y":0.12,"l":0.105,"h":0.135,"f":0.12,"a":0.113,"b":0.127},
{"o":"ALRI","g":"X","x":0.07,"y":0.119,"l":0.101,"h":0.137,"f":0.122,"a":0.114,"b":0.13},
{"o":"ALRI","g":"X","x":0.09,"y":0.12,"l":0.098,"h":0.142,"f":0.127,"a":0.117,"b":0.137},
{"o":"ALRI","g":"X","x":0.11,"y":0.14,"l":0.095,"h":0.185,"f":0.134,"a":0.12,"b":0.148},
{"o":"ALRI","g":"X","x":0.13,"y":0.149,"l":0.104,"h":0.194,"f":0.143,"a":0.121,"b":0.165},
{"o":"ALRI","g":"X","x":0.15,"y":0.155,"l":0.107,"h":0.203,"f":0.153,"a":0.118,"b":0.188},
{"o":"AURI","g":"N","x":0.01,"y":0.009,"l":0.007,"h":0.011,"f":0.008,"a":0.0058,"b":0.0102},
{"o":"AURI","g":"N","x":0.03,"y":0.0072,"l":0.0047,"h":0.0097,"f":0.0067,"a":0.0049,"b":0.0085},
{"o":"AURI","g":"N","x":0.05,"y":0.006,"l":0.003,"h":0.009,"f":0.006,"a":0.0043,"b":0.0077},
{"o":"AURI","g":"N","x":0.07,"y":0.0062,"l":0.0022,"h":0.0102,"f":0.006,"a":0.004,"b":0.008},
{"o":"AURI","g":"N","x":0.09,"y":0.0095,"l":0.0045,"h":0.0145,"f":0.0068,"a":0.004,"b":0.0096},
{"o":"AURI","g":"N","x":0.11,"y":0.0085,"l":0.0025,"h":0.0145,"f":0.0083,"a":0.0043,"b":0.0123},
{"o":"AURI","g":"N","x":0.13,"y":0.0098,"l":0.0018,"h":0.0178,"f":0.0104,"a":0.0039,"b":0.0169},
{"o":"AURI","g":"N","x":0.15,"y":0.0116,"l":0.0016,"h":0.0216,"f":0.013,"a":0.0015,"b":0.031},
{"o":"AURI","g":"C","x":0.01,"y":0.011,"l":0.01,"h":0.012,"f":0.011,"a":0.0098,"b":0.0122},
{"o":"AURI","g":"C","x":0.03,"y":0.0124,"l":0.0111,"h":0.0137,"f":0.012,"a":0.011,"b":0.013},
{"o":"AURI","g":"C","x":0.05,"y":0.0134,"l":0.0118,"h":0.015,"f":0.013,"a":0.012,"b":0.014},
{"o":"AURI","g":"C","x":0.07,"y":0.0147,"l":0.0127,"h":0.0167,"f":0.0135,"a":0.0125,"b":0.0145},
{"o":"AURI","g":"C","x":0.09,"y":0.0142,"l":0.0117,"h":0.0167,"f":0.014,"a":0.0128,"b":0.0152},
{"o":"AURI","g":"C","x":0.11,"y":0.0134,"l":0.0104,"h":0.0164,"f":0.0142,"a":0.0126,"b":0.0158},
{"o":"AURI","g":"C","x":0.13,"y":0.0142,"l":0.0107,"h":0.0177,"f":0.0145,"a":0.0123,"b":0.0167},
{"o":"AURI","g":"C","x":0.15,"y":0.0155,"l":0.0115,"h":0.0195,"f":0.0148,"a":0.0118,"b":0.0178},
{"o":"AURI","g":"X","x":0.01,"y":0.011,"l":0.008,"h":0.014,"f":0.011,"a":0.008,"b":0.014},
{"o":"AURI","g":"X","x":0.03,"y":0.0134,"l":0.0094,"h":0.0174,"f":0.0135,"a":0.0107,"b":0.0163},
{"o":"AURI","g":"X","x":0.05,"y":0.015,"l":0.01,"h":0.02,"f":0.015,"a":0.012,"b":0.018},
{"o":"AURI","g":"X","x":0.07,"y":0.0168,"l":0.0098,"h":0.0238,"f":0.0165,"a":0.013,"b":0.02},
{"o":"AURI","g":"X","x":0.09,"y":0.0194,"l":0.0104,"h":0.0284,"f":0.018,"a":0.0135,"b":0.0225},
{"o":"AURI","g":"X","x":0.11,"y":0.018,"l":0.006,"h":0.03,"f":0.019,"a":0.013,"b":0.025},
{"o":"AURI","g":"X","x":0.13,"y":0.0186,"l":0.0036,"h":0.0336,"f":0.0195,"a":0.0115,"b":0.0275},
{"o":"AURI","g":"X","x":0.15,"y":0.02,"l":0.001,"h":0.039,"f":0.02,"a":0.009,"b":0.031},
{"o":"Infections","g":"N","x":0.01,"y":0.126,"l":0.12,"h":0.132,"f":0.127,"a":0.121,"b":0.133},
{"o":"Infections","g":"N","x":0.03,"y":0.135,"l":0.126,"h":0.144,"f":0.136,"a":0.131,"b":0.141},
{"o":"Infections","g":"N","x":0.05,"y":0.145,"l":0.133,"h":0.157,"f":0.146,"a":0.14,"b":0.152},
{"o":"Infections","g":"N","x":0.07,"y":0.155,"l":0.14,"h":0.17,"f":0.155,"a":0.148,"b":0.162},
{"o":"Infections","g":"N","x":0.09,"y":0.164,"l":0.145,"h":0.183,"f":0.164,"a":0.154,"b":0.174},
{"o":"Infections","g":"N","x":0.11,"y":0.184,"l":0.16,"h":0.208,"f":0.172,"a":0.157,"b":0.187},
{"o":"Infections","g":"N","x":0.13,"y":0.181,"l":0.151,"h":0.211,"f":0.181,"a":0.156,"b":0.206},
{"o":"Infections","g":"N","x":0.15,"y":0.19,"l":0.152,"h":0.228,"f":0.19,"a":0.148,"b":0.232},
{"o":"Infections","g":"C","x":0.01,"y":0.126,"l":0.122,"h":0.13,"f":0.126,"a":0.121,"b":0.131},
{"o":"Infections","g":"C","x":0.03,"y":0.135,"l":0.13,"h":0.14,"f":0.138,"a":0.134,"b":0.142},
{"o":"Infections","g":"C","x":0.05,"y":0.152,"l":0.146,"h":0.158,"f":0.151,"a":0.147,"b":0.155},
{"o":"Infections","g":"C","x":0.07,"y":0.168,"l":0.161,"h":0.175,"f":0.166,"a":0.162,"b":0.17},
{"o":"Infections","g":"C","x":0.09,"y":0.184,"l":0.176,"h":0.192,"f":0.18,"a":0.175,"b":0.185},
{"o":"Infections","g":"C","x":0.11,"y":0.193,"l":0.183,"h":0.203,"f":0.193,"a":0.187,"b":0.199},
{"o":"Infections","g":"C","x":0.13,"y":0.206,"l":0.194,"h":0.218,"f":0.205,"a":0.197,"b":0.213},
{"o":"Infections","g":"C","x":0.15,"y":0.215,"l":0.201,"h":0.229,"f":0.216,"a":0.204,"b":0.228},
{"o":"Infections","g":"X","x":0.01,"y":0.128,"l":0.12,"h":0.136,"f":0.128,"a":0.12,"b":0.136},
{"o":"Infections","g":"X","x":0.03,"y":0.135,"l":0.125,"h":0.145,"f":0.133,"a":0.126,"b":0.14},
{"o":"Infections","g":"X","x":0.05,"y":0.145,"l":0.132,"h":0.158,"f":0.14,"a":0.133,"b":0.147},
{"o":"Infections","g":"X","x":0.07,"y":0.154,"l":0.138,"h":0.17,"f":0.151,"a":0.143,"b":0.159},
{"o":"Infections","g":"X","x":0.09,"y":0.171,"l":0.15,"h":0.192,"f":0.167,"a":0.157,"b":0.177},
{"o":"Infections","g":"X","x":0.11,"y":0.188,"l":0.161,"h":0.215,"f":0.187,"a":0.173,"b":0.201},
{"o":"Infections","g":"X","x":0.13,"y":0.219,"l":0.184,"h":0.254,"f":0.212,"a":0.19,"b":0.234},
{"o":"Infections","g":"X","x":0.15,"y":0.242,"l":0.197,"h":0.287,"f":0.242,"a":0.206,"b":0.278},
{"o":"Influenza","g":"N","x":0.01,"y":0.004,"l":0.0025,"h":0.0055,"f":0.004,"a":0.0025,"b":0.0055},
{"o":"Influenza","g":"N","x":0.03,"y":0.0053,"l":0.0033,"h":0.0073,"f":0.0055,"a":0.004,"b":0.007},
{"o":"Influenza","g":"N","x":0.05,"y":0.008,"l":0.005,"h":0.011,"f":0.007,"a":0.0053,"b":0.0087},
{"o":"Influenza","g":"N","x":0.07,"y":0.008,"l":0.004,"h":0.012,"f":0.0085,"a":0.0065,"b":0.0105},
{"o":"Influenza","g":"N","x":0.09,"y":0.0106,"l":0.0056,"h":0.0156,"f":0.0098,"a":0.0068,"b":0.0128},
{"o":"Influenza","g":"N","x":0.11,"y":0.012,"l":0.006,"h":0.018,"f":0.0108,"a":0.0063,"b":0.0153},
{"o":"Influenza","g":"N","x":0.13,"y":0.012,"l":0.004,"h":0.02,"f":0.0113,"a":0.003,"b":0.022},
{"o":"Influenza","g":"N","x":0.15,"y":0.0106,"l":0.0006,"h":0.0206,"f":0.0113,"a":-0.002,"b":0.034},
{"o":"Influenza","g":"C","x":0.01,"y":0.0032,"l":0.0026,"h":0.0038,"f":0.0033,"a":0.0026,"b":0.004},
{"o":"Influenza","g":"C","x":0.03,"y":0.0045,"l":0.0037,"h":0.0053,"f":0.0045,"a":0.0039,"b":0.0051},
{"o":"Influenza","g":"C","x":0.05,"y":0.0058,"l":0.0048,"h":0.0068,"f":0.0055,"a":0.0049,"b":0.0061},
{"o":"Influenza","g":"C","x":0.07,"y":0.0061,"l":0.0049,"h":0.0073,"f":0.0063,"a":0.0057,"b":0.0069},
{"o":"Influenza","g":"C","x":0.09,"y":0.0069,"l":0.0055,"h":0.0083,"f":0.0069,"a":0.0061,"b":0.0077},
{"o":"Influenza","g":"C","x":0.11,"y":0.0074,"l":0.0057,"h":0.0091,"f":0.0075,"a":0.0063,"b":0.0087},
{"o":"Influenza","g":"C","x":0.13,"y":0.008,"l":0.006,"h":0.01,"f":0.008,"a":0.0062,"b":0.0098},
{"o":"Influenza","g":"C","x":0.15,"y":0.008,"l":0.0055,"h":0.0105,"f":0.0085,"a":0.0059,"b":0.0111},
{"o":"Influenza","g":"X","x":0.01,"y":0.0034,"l":0.0022,"h":0.0046,"f":0.0035,"a":0.0022,"b":0.0048},
{"o":"Influenza","g":"X","x":0.03,"y":0.004,"l":0.0022,"h":0.0058,"f":0.004,"a":0.0028,"b":0.0052},
{"o":"Influenza","g":"X","x":0.05,"y":0.0045,"l":0.0021,"h":0.0069,"f":0.0045,"a":0.0033,"b":0.0057},
{"o":"Influenza","g":"X","x":0.07,"y":0.0048,"l":0.0018,"h":0.0078,"f":0.0048,"a":0.0034,"b":0.0062},
{"o":"Influenza","g":"X","x":0.09,"y":0.0048,"l":0.001,"h":0.0086,"f":0.0048,"a":0.003,"b":0.0066},
{"o":"Influenza","g":"X","x":0.11,"y":0.0048,"l":0.0002,"h":0.0094,"f":0.0046,"a":0.0021,"b":0.0071},
{"o":"Influenza","g":"X","x":0.13,"y":0.0034,"l":-0.0021,"h":0.0089,"f":0.0043,"a":0.0007,"b":0.0079},
{"o":"Influenza","g":"X","x":0.15,"y":0.004,"l":-0.0025,"h":0.0105,"f":0.004,"a":-0.001,"b":0.009},
{"o":"II","g":"N","x":0.01,"y":0.058,"l":0.054,"h":0.062,"f":0.058,"a":0.054,"b":0.062},
{"o":"II","g":"N","x":0.03,"y":0.0597,"l":0.0537,"h":0.0657,"f":0.062,"a":0.058,"b":0.066},
{"o":"II","g":"N","x":0.05,"y":0.0685,"l":0.0605,"h":0.0765,"f":0.066,"a":0.062,"b":0.071},
{"o":"II","g":"N","x":0.07,"y":0.069,"l":0.059,"h":0.079,"f":0.071,"a":0.065,"b":0.077},
{"o":"II","g":"N","x":0.09,"y":0.078,"l":0.065,"h":0.091,"f":0.075,"a":0.067,"b":0.084},
{"o":"II","g":"N","x":0.11,"y":0.083,"l":0.067,"h":0.099,"f":0.079,"a":0.066,"b":0.094},
{"o":"II","g":"N","x":0.13,"y":0.076,"l":0.056,"h":0.096,"f":0.082,"a":0.062,"b":0.112},
{"o":"II","g":"N","x":0.15,"y":0.084,"l":0.058,"h":0.11,"f":0.085,"a":0.053,"b":0.148},
{"o":"II","g":"C","x":0.01,"y":0.051,"l":0.049,"h":0.053,"f":0.051,"a":0.0485,"b":0.0535},
{"o":"II","g":"C","x":0.03,"y":0.054,"l":0.051,"h":0.057,"f":0.054,"a":0.052,"b":0.056},
{"o":"II","g":"C","x":0.05,"y":0.058,"l":0.055,"h":0.061,"f":0.058,"a":0.056,"b":0.06},
{"o":"II","g":"C","x":0.07,"y":0.062,"l":0.058,"h":0.066,"f":0.063,"a":0.061,"b":0.065},
{"o":"II","g":"C","x":0.09,"y":0.0685,"l":0.0635,"h":0.0735,"f":0.068,"a":0.0655,"b":0.0705},
{"o":"II","g":"C","x":0.11,"y":0.074,"l":0.068,"h":0.08,"f":0.074,"a":0.071,"b":0.077},
{"o":"II","g":"C","x":0.13,"y":0.08,"l":0.073,"h":0.087,"f":0.08,"a":0.0755,"b":0.0845},
{"o":"II","g":"C","x":0.15,"y":0.085,"l":0.076,"h":0.094,"f":0.086,"a":0.079,"b":0.093},
{"o":"II","g":"X","x":0.01,"y":0.0487,"l":0.0447,"h":0.0527,"f":0.049,"a":0.045,"b":0.053},
{"o":"II","g":"X","x":0.03,"y":0.05,"l":0.044,"h":0.056,"f":0.05,"a":0.0465,"b":0.0535},
{"o":"II","g":"X","x":0.05,"y":0.056,"l":0.048,"h":0.064,"f":0.053,"a":0.0495,"b":0.0565},
{"o":"II","g":"X","x":0.07,"y":0.058,"l":0.048,"h":0.068,"f":0.057,"a":0.053,"b":0.061},
{"o":"II","g":"X","x":0.09,"y":0.065,"l":0.052,"h":0.078,"f":0.063,"a":0.057,"b":0.069},
{"o":"II","g":"X","x":0.11,"y":0.074,"l":0.057,"h":0.091,"f":0.071,"a":0.062,"b":0.08},
{"o":"II","g":"X","x":0.13,"y":0.083,"l":0.061,"h":0.105,"f":0.082,"a":0.068,"b":0.096},
{"o":"II","g":"X","x":0.15,"y":0.096,"l":0.068,"h":0.124,"f":0.095,"a":0.073,"b":0.117},
{"o":"Pneumonia","g":"N","x":0.01,"y":0.053,"l":0.049,"h":0.057,"f":0.055,"a":0.051,"b":0.059},
{"o":"Pneumonia","g":"N","x":0.03,"y":0.06,"l":0.054,"h":0.066,"f":0.062,"a":0.058,"b":0.066},
{"o":"Pneumonia","g":"N","x":0.05,"y":0.0677,"l":0.0597,"h":0.0757,"f":0.069,"a":0.064,"b":0.074},
{"o":"Pneumonia","g":"N","x":0.07,"y":0.078,"l":0.067,"h":0.089,"f":0.076,"a":0.07,"b":0.083},
{"o":"Pneumonia","g":"N","x":0.09,"y":0.084,"l":0.07,"h":0.098,"f":0.082,"a":0.073,"b":0.092},
{"o":"Pneumonia","g":"N","x":0.11,"y":0.091,"l":0.073,"h":0.109,"f":0.086,"a":0.073,"b":0.103},
{"o":"Pneumonia","g":"N","x":0.13,"y":0.084,"l":0.062,"h":0.106,"f":0.089,"a":0.07,"b":0.125},
{"o":"Pneumonia","g":"N","x":0.15,"y":0.088,"l":0.06,"h":0.116,"f":0.09,"a":0.065,"b":0.19},
{"o":"Pneumonia","g":"C","x":0.01,"y":0.048,"l":0.046,"h":0.05,"f":0.05,"a":0.047,"b":0.053},
{"o":"Pneumonia","g":"C","x":0.03,"y":0.055,"l":0.052,"h":0.058,"f":0.059,"a":0.056,"b":0.062},
{"o":"Pneumonia","g":"C","x":0.05,"y":0.071,"l":0.067,"h":0.075,"f":0.069,"a":0.066,"b":0.072},
{"o":"Pneumonia","g":"C","x":0.07,"y":0.078,"l":0.073,"h":0.083,"f":0.078,"a":0.075,"b":0.081},
{"o":"Pneumonia","g":"C","x":0.09,"y":0.088,"l":0.082,"h":0.094,"f":0.086,"a":0.082,"b":0.09},
{"o":"Pneumonia","g":"C","x":0.11,"y":0.0965,"l":0.0895,"h":0.1035,"f":0.094,"a":0.089,"b":0.099},
{"o":"Pneumonia","g":"C","x":0.13,"y":0.102,"l":0.094,"h":0.11,"f":0.101,"a":0.094,"b":0.108},
{"o":"Pneumonia","g":"C","x":0.15,"y":0.107,"l":0.098,"h":0.116,"f":0.108,"a":0.098,"b":0.118},
{"o":"Pneumonia","g":"X","x":0.01,"y":0.057,"l":0.052,"h":0.062,"f":0.057,"a":0.052,"b":0.062},
{"o":"Pneumonia","g":"X","x":0.03,"y":0.062,"l":0.055,"h":0.069,"f":0.061,"a":0.056,"b":0.066},
{"o":"Pneumonia","g":"X","x":0.05,"y":0.068,"l":0.059,"h":0.077,"f":0.067,"a":0.062,"b":0.072},
{"o":"Pneumonia","g":"X","x":0.07,"y":0.076,"l":0.064,"h":0.088,"f":0.077,"a":0.071,"b":0.083},
{"o":"Pneumonia","g":"X","x":0.09,"y":0.091,"l":0.075,"h":0.107,"f":0.089,"a":0.081,"b":0.097},
{"o":"Pneumonia","g":"X","x":0.11,"y":0.104,"l":0.083,"h":0.125,"f":0.105,"a":0.093,"b":0.117},
{"o":"Pneumonia","g":"X","x":0.13,"y":0.125,"l":0.097,"h":0.153,"f":0.123,"a":0.105,"b":0.141},
{"o":"Pneumonia","g":"X","x":0.15,"y":0.143,"l":0.107,"h":0.179,"f":0.144,"a":0.116,"b":0.172}
]},
"spacing":10,
"hconcat":[
{"spacing":7.75,"vconcat":[
{"data":{"name":"d"},"transform":[{"filter":"datum.o=='COVID'"}],"facet":{"column":{"field":"g","sort":["N","C","X"],"header":{"title":null,"labelExpr":"datum.value=='N'?'New FI-CH':datum.value=='C'?'Classical FI-CH':'Classical non-FI CH'"}}},"spacing":8.5,
 "spec":{"width":55,"height":57,"encoding":{"x":{"field":"x","type":"quantitative","scale":{"domain":[0.003,0.157],"nice":false,"zero":false},"axis":{"labels":false,"ticks":false,"title":null}}},"layer":[
 {"mark":{"type":"area","opacity":0.25,"clip":true,"interpolate":"monotone"},"encoding":{"y":{"field":"a","type":"quantitative","scale":{"type":"log","domain":[0.0081,0.063],"nice":false},"axis":{"title":["Fraction w/","COVID"],"values":[0.01,0.02,0.04],"format":".2f"}},"y2":{"field":"b"},"color":{"field":"g","type":"nominal","scale":{"domain":["C","N","X"],"range":["#1f77b4","#ff7f0e","#2ca02c"]}}}},
 {"mark":{"type":"rule","clip":true,"strokeWidth":1.1},"encoding":{"y":{"field":"l","type":"quantitative","scale":{"type":"log","domain":[0.0081,0.063],"nice":false}},"y2":{"field":"h"},"color":{"field":"g","type":"nominal"}}},
 {"mark":{"type":"line","clip":true,"strokeWidth":1.2,"interpolate":"monotone"},"encoding":{"y":{"field":"f","type":"quantitative","scale":{"type":"log","domain":[0.0081,0.063],"nice":false}},"color":{"field":"g","type":"nominal"}}},
 {"mark":{"type":"point","shape":"square","filled":true,"size":8,"opacity":1},"encoding":{"y":{"field":"y","type":"quantitative","scale":{"type":"log","domain":[0.0081,0.063],"nice":false}},"color":{"field":"g","type":"nominal","legend":{"title":null,"labelExpr":"datum.value=='C'?'Classical fitness-inferred CH':datum.value=='N'?'New fitness-inferred CH':'Classical non fitness-inferred CH'"}}}},
 {"mark":{"type":"rule","color":"#888","strokeWidth":0.8},"encoding":{"x":{"datum":0.003}}}
 ]}},
{"data":{"name":"d"},"transform":[{"filter":"datum.o=='Death'"}],"facet":{"column":{"field":"g","sort":["N","C","X"],"header":{"title":null,"labels":false}}},"spacing":8.5,
 "spec":{"width":55,"height":57,"encoding":{"x":{"field":"x","type":"quantitative","scale":{"domain":[0.003,0.157],"nice":false,"zero":false},"axis":{"labels":false,"ticks":false,"title":null}}},"layer":[
 {"mark":{"type":"area","opacity":0.25,"clip":true,"interpolate":"monotone"},"encoding":{"y":{"field":"a","type":"quantitative","scale":{"domain":[0.034,0.209],"nice":false,"zero":false},"axis":{"title":["Fraction w/","Death"],"values":[0.05,0.1,0.15,0.2],"format":".2f"}},"y2":{"field":"b"},"color":{"field":"g","type":"nominal"}}},
 {"mark":{"type":"rule","clip":true,"strokeWidth":1.1},"encoding":{"y":{"field":"l","type":"quantitative","scale":{"domain":[0.034,0.209],"nice":false,"zero":false}},"y2":{"field":"h"},"color":{"field":"g","type":"nominal"}}},
 {"mark":{"type":"line","clip":true,"strokeWidth":1.2,"interpolate":"monotone"},"encoding":{"y":{"field":"f","type":"quantitative","scale":{"domain":[0.034,0.209],"nice":false,"zero":false}},"color":{"field":"g","type":"nominal"}}},
 {"mark":{"type":"point","shape":"square","filled":true,"size":8,"opacity":1},"encoding":{"y":{"field":"y","type":"quantitative","scale":{"domain":[0.034,0.209],"nice":false,"zero":false}},"color":{"field":"g","type":"nominal","legend":{"title":null,"labelExpr":"datum.value=='C'?'Classical fitness-inferred CH':datum.value=='N'?'New fitness-inferred CH':'Classical non fitness-inferred CH'"}}}},
 {"mark":{"type":"rule","color":"#888","strokeWidth":0.8},"encoding":{"x":{"datum":0.003}}}
 ]}},
{"data":{"name":"d"},"transform":[{"filter":"datum.o=='Heme'"}],"facet":{"column":{"field":"g","sort":["N","C","X"],"header":{"title":null,"labels":false}}},"spacing":8.5,
 "spec":{"width":55,"height":57,"encoding":{"x":{"field":"x","type":"quantitative","scale":{"domain":[0.003,0.157],"nice":false,"zero":false},"axis":{"labels":false,"ticks":false,"title":null}}},"layer":[
 {"mark":{"type":"area","opacity":0.25,"clip":true,"interpolate":"monotone"},"encoding":{"y":{"field":"a","type":"quantitative","scale":{"domain":[-0.016,0.28],"nice":false,"zero":false},"axis":{"title":["Fraction w/","Heme malignancy"],"values":[0,0.1,0.2],"format":".1f"}},"y2":{"field":"b"},"color":{"field":"g","type":"nominal"}}},
 {"mark":{"type":"rule","clip":true,"strokeWidth":1.1},"encoding":{"y":{"field":"l","type":"quantitative","scale":{"domain":[-0.016,0.28],"nice":false,"zero":false}},"y2":{"field":"h"},"color":{"field":"g","type":"nominal"}}},
 {"mark":{"type":"line","clip":true,"strokeWidth":1.2,"interpolate":"monotone"},"encoding":{"y":{"field":"f","type":"quantitative","scale":{"domain":[-0.016,0.28],"nice":false,"zero":false}},"color":{"field":"g","type":"nominal"}}},
 {"mark":{"type":"point","shape":"square","filled":true,"size":8,"opacity":1},"encoding":{"y":{"field":"y","type":"quantitative","scale":{"domain":[-0.016,0.28],"nice":false,"zero":false}},"color":{"field":"g","type":"nominal","legend":{"title":null,"labelExpr":"datum.value=='C'?'Classical fitness-inferred CH':datum.value=='N'?'New fitness-inferred CH':'Classical non fitness-inferred CH'"}}}},
 {"mark":{"type":"rule","color":"#888","strokeWidth":0.8},"encoding":{"x":{"datum":0.003}}}
 ]}},
{"data":{"name":"d"},"transform":[{"filter":"datum.o=='MI'"}],"facet":{"column":{"field":"g","sort":["N","C","X"],"header":{"title":null,"labels":false}}},"spacing":8.5,
 "spec":{"width":55,"height":57,"encoding":{"x":{"field":"x","type":"quantitative","scale":{"domain":[0.003,0.157],"nice":false,"zero":false},"axis":{"labels":false,"ticks":false,"title":null}}},"layer":[
 {"mark":{"type":"area","opacity":0.25,"clip":true,"interpolate":"monotone"},"encoding":{"y":{"field":"a","type":"quantitative","scale":{"domain":[0.006,0.09],"nice":false,"zero":false},"axis":{"title":["Fraction w/","MI/Stroke"],"values":[0.025,0.05,0.075],"format":".3f"}},"y2":{"field":"b"},"color":{"field":"g","type":"nominal"}}},
 {"mark":{"type":"rule","clip":true,"strokeWidth":1.1},"encoding":{"y":{"field":"l","type":"quantitative","scale":{"domain":[0.006,0.09],"nice":false,"zero":false}},"y2":{"field":"h"},"color":{"field":"g","type":"nominal"}}},
 {"mark":{"type":"line","clip":true,"strokeWidth":1.2,"interpolate":"monotone"},"encoding":{"y":{"field":"f","type":"quantitative","scale":{"domain":[0.006,0.09],"nice":false,"zero":false}},"color":{"field":"g","type":"nominal"}}},
 {"mark":{"type":"point","shape":"square","filled":true,"size":8,"opacity":1},"encoding":{"y":{"field":"y","type":"quantitative","scale":{"domain":[0.006,0.09],"nice":false,"zero":false}},"color":{"field":"g","type":"nominal","legend":{"title":null,"labelExpr":"datum.value=='C'?'Classical fitness-inferred CH':datum.value=='N'?'New fitness-inferred CH':'Classical non fitness-inferred CH'"}}}},
 {"mark":{"type":"rule","color":"#888","strokeWidth":0.8},"encoding":{"x":{"datum":0.003}}}
 ]}},
{"data":{"name":"d"},"transform":[{"filter":"datum.o=='NonHeme'"}],"facet":{"column":{"field":"g","sort":["N","C","X"],"header":{"title":null,"labels":false}}},"spacing":8.5,
 "spec":{"width":55,"height":57,"encoding":{"x":{"field":"x","type":"quantitative","scale":{"domain":[0.003,0.157],"nice":false,"zero":false},"axis":{"values":[0.05,0.1,0.15],"format":".2f","title":"VAF threshold"}}},"layer":[
 {"mark":{"type":"area","opacity":0.25,"clip":true,"interpolate":"monotone"},"encoding":{"y":{"field":"a","type":"quantitative","scale":{"domain":[0.07,0.23],"nice":false,"zero":false},"axis":{"title":["Fraction w/","Non-heme malignancy"],"values":[0.1,0.15,0.2],"format":".2f"}},"y2":{"field":"b"},"color":{"field":"g","type":"nominal"}}},
 {"mark":{"type":"rule","clip":true,"strokeWidth":1.1},"encoding":{"y":{"field":"l","type":"quantitative","scale":{"domain":[0.07,0.23],"nice":false,"zero":false}},"y2":{"field":"h"},"color":{"field":"g","type":"nominal"}}},
 {"mark":{"type":"line","clip":true,"strokeWidth":1.2,"interpolate":"monotone"},"encoding":{"y":{"field":"f","type":"quantitative","scale":{"domain":[0.07,0.23],"nice":false,"zero":false}},"color":{"field":"g","type":"nominal"}}},
 {"mark":{"type":"point","shape":"square","filled":true,"size":8,"opacity":1},"encoding":{"y":{"field":"y","type":"quantitative","scale":{"domain":[0.07,0.23],"nice":false,"zero":false}},"color":{"field":"g","type":"nominal","legend":{"title":null,"labelExpr":"datum.value=='C'?'Classical fitness-inferred CH':datum.value=='N'?'New fitness-inferred CH':'Classical non fitness-inferred CH'"}}}},
 {"mark":{"type":"rule","color":"#888","strokeWidth":0.8},"encoding":{"x":{"datum":0.003}}}
 ]}}
]},
{"spacing":13,"hconcat":[
{"spacing":11.25,"vconcat":[
{"data":{"name":"d"},"transform":[{"filter":"datum.o=='ALL'"}],"facet":{"column":{"field":"g","sort":["N","C","X"],"header":{"title":null,"labelExpr":"datum.value=='N'?'New FI-CH':datum.value=='C'?'Classical FI-CH':'Classical non-FI CH'"}}},"spacing":12,
 "spec":{"width":56,"height":52.5,"encoding":{"x":{"field":"x","type":"quantitative","scale":{"domain":[0.003,0.157],"nice":false,"zero":false},"axis":{"labels":false,"ticks":false,"title":null}}},"layer":[
 {"mark":{"type":"area","opacity":0.25,"clip":true,"interpolate":"monotone"},"encoding":{"y":{"field":"a","type":"quantitative","scale":{"domain":[-0.0033,0.0088],"nice":false,"zero":false},"axis":{"title":["Fraction w/","ALL"],"values":[0,0.005],"format":".3f"}},"y2":{"field":"b"},"color":{"field":"g","type":"nominal"}}},
 {"mark":{"type":"rule","clip":true,"strokeWidth":1.1},"encoding":{"y":{"field":"l","type":"quantitative","scale":{"domain":[-0.0033,0.0088],"nice":false,"zero":false}},"y2":{"field":"h"},"color":{"field":"g","type":"nominal"}}},
 {"mark":{"type":"line","clip":true,"strokeWidth":1.2,"interpolate":"monotone"},"encoding":{"y":{"field":"f","type":"quantitative","scale":{"domain":[-0.0033,0.0088],"nice":false,"zero":false}},"color":{"field":"g","type":"nominal"}}},
 {"mark":{"type":"point","shape":"square","filled":true,"size":8,"opacity":1},"encoding":{"y":{"field":"y","type":"quantitative","scale":{"domain":[-0.0033,0.0088],"nice":false,"zero":false}},"color":{"field":"g","type":"nominal","legend":{"title":null,"labelExpr":"datum.value=='C'?'Classical fitness-inferred CH':datum.value=='N'?'New fitness-inferred CH':'Classical non fitness-inferred CH'"}}}},
 {"mark":{"type":"rule","color":"#888","strokeWidth":0.8},"encoding":{"x":{"datum":0.003}}}
 ]}},
{"data":{"name":"d"},"transform":[{"filter":"datum.o=='CML'"}],"facet":{"column":{"field":"g","sort":["N","C","X"],"header":{"title":null,"labels":false}}},"spacing":12,
 "spec":{"width":56,"height":52.5,"encoding":{"x":{"field":"x","type":"quantitative","scale":{"domain":[0.003,0.157],"nice":false,"zero":false},"axis":{"labels":false,"ticks":false,"title":null}}},"layer":[
 {"mark":{"type":"area","opacity":0.25,"clip":true,"interpolate":"monotone"},"encoding":{"y":{"field":"a","type":"quantitative","scale":{"domain":[-0.002,0.049],"nice":false,"zero":false},"axis":{"title":["Fraction w/","CML"],"values":[0,0.02,0.04],"format":".2f"}},"y2":{"field":"b"},"color":{"field":"g","type":"nominal"}}},
 {"mark":{"type":"rule","clip":true,"strokeWidth":1.1},"encoding":{"y":{"field":"l","type":"quantitative","scale":{"domain":[-0.002,0.049],"nice":false,"zero":false}},"y2":{"field":"h"},"color":{"field":"g","type":"nominal"}}},
 {"mark":{"type":"line","clip":true,"strokeWidth":1.2,"interpolate":"monotone"},"encoding":{"y":{"field":"f","type":"quantitative","scale":{"domain":[-0.002,0.049],"nice":false,"zero":false}},"color":{"field":"g","type":"nominal"}}},
 {"mark":{"type":"point","shape":"square","filled":true,"size":8,"opacity":1},"encoding":{"y":{"field":"y","type":"quantitative","scale":{"domain":[-0.002,0.049],"nice":false,"zero":false}},"color":{"field":"g","type":"nominal","legend":{"title":null,"labelExpr":"datum.value=='C'?'Classical fitness-inferred CH':datum.value=='N'?'New fitness-inferred CH':'Classical non fitness-inferred CH'"}}}},
 {"mark":{"type":"rule","color":"#888","strokeWidth":0.8},"encoding":{"x":{"datum":0.003}}}
 ]}},
{"data":{"name":"d"},"transform":[{"filter":"datum.o=='CLM'"}],"facet":{"column":{"field":"g","sort":["N","C","X"],"header":{"title":null,"labels":false}}},"spacing":12,
 "spec":{"width":56,"height":52.5,"encoding":{"x":{"field":"x","type":"quantitative","scale":{"domain":[0.003,0.157],"nice":false,"zero":false},"axis":{"labels":false,"ticks":false,"title":null}}},"layer":[
 {"mark":{"type":"area","opacity":0.25,"clip":true,"interpolate":"monotone"},"encoding":{"y":{"field":"a","type":"quantitative","scale":{"domain":[-0.006,0.115],"nice":false,"zero":false},"axis":{"title":["Fraction w/","CLM"],"values":[0,0.05,0.1],"format":".2f"}},"y2":{"field":"b"},"color":{"field":"g","type":"nominal"}}},
 {"mark":{"type":"rule","clip":true,"strokeWidth":1.1},"encoding":{"y":{"field":"l","type":"quantitative","scale":{"domain":[-0.006,0.115],"nice":false,"zero":false}},"y2":{"field":"h"},"color":{"field":"g","type":"nominal"}}},
 {"mark":{"type":"line","clip":true,"strokeWidth":1.2,"interpolate":"monotone"},"encoding":{"y":{"field":"f","type":"quantitative","scale":{"domain":[-0.006,0.115],"nice":false,"zero":false}},"color":{"field":"g","type":"nominal"}}},
 {"mark":{"type":"point","shape":"square","filled":true,"size":8,"opacity":1},"encoding":{"y":{"field":"y","type":"quantitative","scale":{"domain":[-0.006,0.115],"nice":false,"zero":false}},"color":{"field":"g","type":"nominal","legend":{"title":null,"labelExpr":"datum.value=='C'?'Classical fitness-inferred CH':datum.value=='N'?'New fitness-inferred CH':'Classical non fitness-inferred CH'"}}}},
 {"mark":{"type":"rule","color":"#888","strokeWidth":0.8},"encoding":{"x":{"datum":0.003}}}
 ]}},
{"data":{"name":"d"},"transform":[{"filter":"datum.o=='MM'"}],"facet":{"column":{"field":"g","sort":["N","C","X"],"header":{"title":null,"labels":false}}},"spacing":12,
 "spec":{"width":56,"height":52.5,"encoding":{"x":{"field":"x","type":"quantitative","scale":{"domain":[0.003,0.157],"nice":false,"zero":false},"axis":{"labels":false,"ticks":false,"title":null}}},"layer":[
 {"mark":{"type":"area","opacity":0.25,"clip":true,"interpolate":"monotone"},"encoding":{"y":{"field":"a","type":"quantitative","scale":{"domain":[-0.009,0.036],"nice":false,"zero":false},"axis":{"title":["Fraction w/","MM"],"values":[0,0.02],"format":".2f"}},"y2":{"field":"b"},"color":{"field":"g","type":"nominal"}}},
 {"mark":{"type":"rule","clip":true,"strokeWidth":1.1},"encoding":{"y":{"field":"l","type":"quantitative","scale":{"domain":[-0.009,0.036],"nice":false,"zero":false}},"y2":{"field":"h"},"color":{"field":"g","type":"nominal"}}},
 {"mark":{"type":"line","clip":true,"strokeWidth":1.2,"interpolate":"monotone"},"encoding":{"y":{"field":"f","type":"quantitative","scale":{"domain":[-0.009,0.036],"nice":false,"zero":false}},"color":{"field":"g","type":"nominal"}}},
 {"mark":{"type":"point","shape":"square","filled":true,"size":8,"opacity":1},"encoding":{"y":{"field":"y","type":"quantitative","scale":{"domain":[-0.009,0.036],"nice":false,"zero":false}},"color":{"field":"g","type":"nominal","legend":{"title":null,"labelExpr":"datum.value=='C'?'Classical fitness-inferred CH':datum.value=='N'?'New fitness-inferred CH':'Classical non fitness-inferred CH'"}}}},
 {"mark":{"type":"rule","color":"#888","strokeWidth":0.8},"encoding":{"x":{"datum":0.003}}}
 ]}},
{"data":{"name":"d"},"transform":[{"filter":"datum.o=='MDS'"}],"facet":{"column":{"field":"g","sort":["N","C","X"],"header":{"title":null,"labels":false}}},"spacing":12,
 "spec":{"width":56,"height":52.5,"encoding":{"x":{"field":"x","type":"quantitative","scale":{"domain":[0.003,0.157],"nice":false,"zero":false},"axis":{"labels":false,"ticks":false,"title":null}}},"layer":[
 {"mark":{"type":"area","opacity":0.25,"clip":true,"interpolate":"monotone"},"encoding":{"y":{"field":"a","type":"quantitative","scale":{"domain":[-0.007,0.079],"nice":false,"zero":false},"axis":{"title":["Fraction w/","MDS"],"values":[0,0.025,0.05,0.075],"format":".3f"}},"y2":{"field":"b"},"color":{"field":"g","type":"nominal"}}},
 {"mark":{"type":"rule","clip":true,"strokeWidth":1.1},"encoding":{"y":{"field":"l","type":"quantitative","scale":{"domain":[-0.007,0.079],"nice":false,"zero":false}},"y2":{"field":"h"},"color":{"field":"g","type":"nominal"}}},
 {"mark":{"type":"line","clip":true,"strokeWidth":1.2,"interpolate":"monotone"},"encoding":{"y":{"field":"f","type":"quantitative","scale":{"domain":[-0.007,0.079],"nice":false,"zero":false}},"color":{"field":"g","type":"nominal"}}},
 {"mark":{"type":"point","shape":"square","filled":true,"size":8,"opacity":1},"encoding":{"y":{"field":"y","type":"quantitative","scale":{"domain":[-0.007,0.079],"nice":false,"zero":false}},"color":{"field":"g","type":"nominal","legend":{"title":null,"labelExpr":"datum.value=='C'?'Classical fitness-inferred CH':datum.value=='N'?'New fitness-inferred CH':'Classical non fitness-inferred CH'"}}}},
 {"mark":{"type":"rule","color":"#888","strokeWidth":0.8},"encoding":{"x":{"datum":0.003}}}
 ]}},
{"data":{"name":"d"},"transform":[{"filter":"datum.o=='AML'"}],"facet":{"column":{"field":"g","sort":["N","C","X"],"header":{"title":null,"labels":false}}},"spacing":12,
 "spec":{"width":56,"height":52.5,"encoding":{"x":{"field":"x","type":"quantitative","scale":{"domain":[0.003,0.157],"nice":false,"zero":false},"axis":{"labels":false,"ticks":false,"title":null}}},"layer":[
 {"mark":{"type":"area","opacity":0.25,"clip":true,"interpolate":"monotone"},"encoding":{"y":{"field":"a","type":"quantitative","scale":{"domain":[-0.011,0.167],"nice":false,"zero":false},"axis":{"title":["Fraction w/","AML"],"values":[0,0.05,0.1,0.15],"format":".2f"}},"y2":{"field":"b"},"color":{"field":"g","type":"nominal"}}},
 {"mark":{"type":"rule","clip":true,"strokeWidth":1.1},"encoding":{"y":{"field":"l","type":"quantitative","scale":{"domain":[-0.011,0.167],"nice":false,"zero":false}},"y2":{"field":"h"},"color":{"field":"g","type":"nominal"}}},
 {"mark":{"type":"line","clip":true,"strokeWidth":1.2,"interpolate":"monotone"},"encoding":{"y":{"field":"f","type":"quantitative","scale":{"domain":[-0.011,0.167],"nice":false,"zero":false}},"color":{"field":"g","type":"nominal"}}},
 {"mark":{"type":"point","shape":"square","filled":true,"size":8,"opacity":1},"encoding":{"y":{"field":"y","type":"quantitative","scale":{"domain":[-0.011,0.167],"nice":false,"zero":false}},"color":{"field":"g","type":"nominal","legend":{"title":null,"labelExpr":"datum.value=='C'?'Classical fitness-inferred CH':datum.value=='N'?'New fitness-inferred CH':'Classical non fitness-inferred CH'"}}}},
 {"mark":{"type":"rule","color":"#888","strokeWidth":0.8},"encoding":{"x":{"datum":0.003}}}
 ]}},
{"data":{"name":"d"},"transform":[{"filter":"datum.o=='MPN'"}],"facet":{"column":{"field":"g","sort":["N","C","X"],"header":{"title":null,"labels":false}}},"spacing":12,
 "spec":{"width":56,"height":52.5,"encoding":{"x":{"field":"x","type":"quantitative","scale":{"domain":[0.003,0.157],"nice":false,"zero":false},"axis":{"values":[0.05,0.1,0.15],"format":".2f","title":"VAF threshold"}}},"layer":[
 {"mark":{"type":"area","opacity":0.25,"clip":true,"interpolate":"monotone"},"encoding":{"y":{"field":"a","type":"quantitative","scale":{"domain":[-0.006,0.084],"nice":false,"zero":false},"axis":{"title":["Fraction w/","MPN"],"values":[0,0.025,0.05,0.075],"format":".3f"}},"y2":{"field":"b"},"color":{"field":"g","type":"nominal"}}},
 {"mark":{"type":"rule","clip":true,"strokeWidth":1.1},"encoding":{"y":{"field":"l","type":"quantitative","scale":{"domain":[-0.006,0.084],"nice":false,"zero":false}},"y2":{"field":"h"},"color":{"field":"g","type":"nominal"}}},
 {"mark":{"type":"line","clip":true,"strokeWidth":1.2,"interpolate":"monotone"},"encoding":{"y":{"field":"f","type":"quantitative","scale":{"domain":[-0.006,0.084],"nice":false,"zero":false}},"color":{"field":"g","type":"nominal"}}},
 {"mark":{"type":"point","shape":"square","filled":true,"size":8,"opacity":1},"encoding":{"y":{"field":"y","type":"quantitative","scale":{"domain":[-0.006,0.084],"nice":false,"zero":false}},"color":{"field":"g","type":"nominal","legend":{"title":null,"labelExpr":"datum.value=='C'?'Classical fitness-inferred CH':datum.value=='N'?'New fitness-inferred CH':'Classical non fitness-inferred CH'"}}}},
 {"mark":{"type":"rule","color":"#888","strokeWidth":0.8},"encoding":{"x":{"datum":0.003}}}
 ]}}
]},
{"spacing":9.5,"vconcat":[
{"data":{"name":"d"},"transform":[{"filter":"datum.o=='ALRI'"}],"facet":{"column":{"field":"g","sort":["N","C","X"],"header":{"title":null,"labelExpr":"datum.value=='N'?'New FI-CH':datum.value=='C'?'Classical FI-CH':'Classical non-FI CH'"}}},"spacing":11,
 "spec":{"width":57,"height":55,"encoding":{"x":{"field":"x","type":"quantitative","scale":{"domain":[0.003,0.157],"nice":false,"zero":false},"axis":{"labels":false,"ticks":false,"title":null}}},"layer":[
 {"mark":{"type":"area","opacity":0.25,"clip":true,"interpolate":"monotone"},"encoding":{"y":{"field":"a","type":"quantitative","scale":{"domain":[0.08,0.215],"nice":false,"zero":false},"axis":{"title":["Fraction w/","ALRI"],"values":[0.1,0.15,0.2],"format":".2f"}},"y2":{"field":"b"},"color":{"field":"g","type":"nominal"}}},
 {"mark":{"type":"rule","clip":true,"strokeWidth":1.1},"encoding":{"y":{"field":"l","type":"quantitative","scale":{"domain":[0.08,0.215],"nice":false,"zero":false}},"y2":{"field":"h"},"color":{"field":"g","type":"nominal"}}},
 {"mark":{"type":"line","clip":true,"strokeWidth":1.2,"interpolate":"monotone"},"encoding":{"y":{"field":"f","type":"quantitative","scale":{"domain":[0.08,0.215],"nice":false,"zero":false}},"color":{"field":"g","type":"nominal"}}},
 {"mark":{"type":"point","shape":"square","filled":true,"size":8,"opacity":1},"encoding":{"y":{"field":"y","type":"quantitative","scale":{"domain":[0.08,0.215],"nice":false,"zero":false}},"color":{"field":"g","type":"nominal","legend":{"title":null,"labelExpr":"datum.value=='C'?'Classical fitness-inferred CH':datum.value=='N'?'New fitness-inferred CH':'Classical non fitness-inferred CH'"}}}},
 {"mark":{"type":"rule","color":"#888","strokeWidth":0.8},"encoding":{"x":{"datum":0.003}}}
 ]}},
{"data":{"name":"d"},"transform":[{"filter":"datum.o=='AURI'"}],"facet":{"column":{"field":"g","sort":["N","C","X"],"header":{"title":null,"labels":false}}},"spacing":11,
 "spec":{"width":57,"height":55,"encoding":{"x":{"field":"x","type":"quantitative","scale":{"domain":[0.003,0.157],"nice":false,"zero":false},"axis":{"labels":false,"ticks":false,"title":null}}},"layer":[
 {"mark":{"type":"area","opacity":0.25,"clip":true,"interpolate":"monotone"},"encoding":{"y":{"field":"a","type":"quantitative","scale":{"domain":[-0.0015,0.043],"nice":false,"zero":false},"axis":{"title":["Fraction w/","AURI"],"values":[0,0.02,0.04],"format":".2f"}},"y2":{"field":"b"},"color":{"field":"g","type":"nominal"}}},
 {"mark":{"type":"rule","clip":true,"strokeWidth":1.1},"encoding":{"y":{"field":"l","type":"quantitative","scale":{"domain":[-0.0015,0.043],"nice":false,"zero":false}},"y2":{"field":"h"},"color":{"field":"g","type":"nominal"}}},
 {"mark":{"type":"line","clip":true,"strokeWidth":1.2,"interpolate":"monotone"},"encoding":{"y":{"field":"f","type":"quantitative","scale":{"domain":[-0.0015,0.043],"nice":false,"zero":false}},"color":{"field":"g","type":"nominal"}}},
 {"mark":{"type":"point","shape":"square","filled":true,"size":8,"opacity":1},"encoding":{"y":{"field":"y","type":"quantitative","scale":{"domain":[-0.0015,0.043],"nice":false,"zero":false}},"color":{"field":"g","type":"nominal","legend":{"title":null,"labelExpr":"datum.value=='C'?'Classical fitness-inferred CH':datum.value=='N'?'New fitness-inferred CH':'Classical non fitness-inferred CH'"}}}},
 {"mark":{"type":"rule","color":"#888","strokeWidth":0.8},"encoding":{"x":{"datum":0.003}}}
 ]}},
{"data":{"name":"d"},"transform":[{"filter":"datum.o=='Infections'"}],"facet":{"column":{"field":"g","sort":["N","C","X"],"header":{"title":null,"labels":false}}},"spacing":11,
 "spec":{"width":57,"height":55,"encoding":{"x":{"field":"x","type":"quantitative","scale":{"domain":[0.003,0.157],"nice":false,"zero":false},"axis":{"labels":false,"ticks":false,"title":null}}},"layer":[
 {"mark":{"type":"area","opacity":0.25,"clip":true,"interpolate":"monotone"},"encoding":{"y":{"field":"a","type":"quantitative","scale":{"domain":[0.093,0.314],"nice":false,"zero":false},"axis":{"title":["Fraction w/","Infections"],"values":[0.1,0.2,0.3],"format":".1f"}},"y2":{"field":"b"},"color":{"field":"g","type":"nominal"}}},
 {"mark":{"type":"rule","clip":true,"strokeWidth":1.1},"encoding":{"y":{"field":"l","type":"quantitative","scale":{"domain":[0.093,0.314],"nice":false,"zero":false}},"y2":{"field":"h"},"color":{"field":"g","type":"nominal"}}},
 {"mark":{"type":"line","clip":true,"strokeWidth":1.2,"interpolate":"monotone"},"encoding":{"y":{"field":"f","type":"quantitative","scale":{"domain":[0.093,0.314],"nice":false,"zero":false}},"color":{"field":"g","type":"nominal"}}},
 {"mark":{"type":"point","shape":"square","filled":true,"size":8,"opacity":1},"encoding":{"y":{"field":"y","type":"quantitative","scale":{"domain":[0.093,0.314],"nice":false,"zero":false}},"color":{"field":"g","type":"nominal","legend":{"title":null,"labelExpr":"datum.value=='C'?'Classical fitness-inferred CH':datum.value=='N'?'New fitness-inferred CH':'Classical non fitness-inferred CH'"}}}},
 {"mark":{"type":"rule","color":"#888","strokeWidth":0.8},"encoding":{"x":{"datum":0.003}}}
 ]}},
{"data":{"name":"d"},"transform":[{"filter":"datum.o=='Influenza'"}],"facet":{"column":{"field":"g","sort":["N","C","X"],"header":{"title":null,"labels":false}}},"spacing":11,
 "spec":{"width":57,"height":55,"encoding":{"x":{"field":"x","type":"quantitative","scale":{"domain":[0.003,0.157],"nice":false,"zero":false},"axis":{"labels":false,"ticks":false,"title":null}}},"layer":[
 {"mark":{"type":"area","opacity":0.25,"clip":true,"interpolate":"monotone"},"encoding":{"y":{"field":"a","type":"quantitative","scale":{"domain":[-0.007,0.0387],"nice":false,"zero":false},"axis":{"title":["Fraction w/","Influenza"],"values":[0,0.02],"format":".2f"}},"y2":{"field":"b"},"color":{"field":"g","type":"nominal"}}},
 {"mark":{"type":"rule","clip":true,"strokeWidth":1.1},"encoding":{"y":{"field":"l","type":"quantitative","scale":{"domain":[-0.007,0.0387],"nice":false,"zero":false}},"y2":{"field":"h"},"color":{"field":"g","type":"nominal"}}},
 {"mark":{"type":"line","clip":true,"strokeWidth":1.2,"interpolate":"monotone"},"encoding":{"y":{"field":"f","type":"quantitative","scale":{"domain":[-0.007,0.0387],"nice":false,"zero":false}},"color":{"field":"g","type":"nominal"}}},
 {"mark":{"type":"point","shape":"square","filled":true,"size":8,"opacity":1},"encoding":{"y":{"field":"y","type":"quantitative","scale":{"domain":[-0.007,0.0387],"nice":false,"zero":false}},"color":{"field":"g","type":"nominal","legend":{"title":null,"labelExpr":"datum.value=='C'?'Classical fitness-inferred CH':datum.value=='N'?'New fitness-inferred CH':'Classical non fitness-inferred CH'"}}}},
 {"mark":{"type":"rule","color":"#888","strokeWidth":0.8},"encoding":{"x":{"datum":0.003}}}
 ]}},
{"data":{"name":"d"},"transform":[{"filter":"datum.o=='II'"}],"facet":{"column":{"field":"g","sort":["N","C","X"],"header":{"title":null,"labels":false}}},"spacing":11,
 "spec":{"width":57,"height":55,"encoding":{"x":{"field":"x","type":"quantitative","scale":{"domain":[0.003,0.157],"nice":false,"zero":false},"axis":{"labels":false,"ticks":false,"title":null}}},"layer":[
 {"mark":{"type":"area","opacity":0.25,"clip":true,"interpolate":"monotone"},"encoding":{"y":{"field":"a","type":"quantitative","scale":{"domain":[0.0405,0.161],"nice":false,"zero":false},"axis":{"title":["Fraction w/","II"],"values":[0.05,0.1,0.15],"format":".2f"}},"y2":{"field":"b"},"color":{"field":"g","type":"nominal"}}},
 {"mark":{"type":"rule","clip":true,"strokeWidth":1.1},"encoding":{"y":{"field":"l","type":"quantitative","scale":{"domain":[0.0405,0.161],"nice":false,"zero":false}},"y2":{"field":"h"},"color":{"field":"g","type":"nominal"}}},
 {"mark":{"type":"line","clip":true,"strokeWidth":1.2,"interpolate":"monotone"},"encoding":{"y":{"field":"f","type":"quantitative","scale":{"domain":[0.0405,0.161],"nice":false,"zero":false}},"color":{"field":"g","type":"nominal"}}},
 {"mark":{"type":"point","shape":"square","filled":true,"size":8,"opacity":1},"encoding":{"y":{"field":"y","type":"quantitative","scale":{"domain":[0.0405,0.161],"nice":false,"zero":false}},"color":{"field":"g","type":"nominal","legend":{"title":null,"labelExpr":"datum.value=='C'?'Classical fitness-inferred CH':datum.value=='N'?'New fitness-inferred CH':'Classical non fitness-inferred CH'"}}}},
 {"mark":{"type":"rule","color":"#888","strokeWidth":0.8},"encoding":{"x":{"datum":0.003}}}
 ]}},
{"data":{"name":"d"},"transform":[{"filter":"datum.o=='Pneumonia'"}],"facet":{"column":{"field":"g","sort":["N","C","X"],"header":{"title":null,"labels":false}}},"spacing":11,
 "spec":{"width":57,"height":55,"encoding":{"x":{"field":"x","type":"quantitative","scale":{"domain":[0.003,0.157],"nice":false,"zero":false},"axis":{"values":[0.05,0.1,0.15],"format":".2f","title":"VAF threshold"}}},"layer":[
 {"mark":{"type":"area","opacity":0.25,"clip":true,"interpolate":"monotone"},"encoding":{"y":{"field":"a","type":"quantitative","scale":{"domain":[0.031,0.205],"nice":false,"zero":false},"axis":{"title":["Fraction w/","Pneumonia"],"values":[0.05,0.1,0.15,0.2],"format":".2f"}},"y2":{"field":"b"},"color":{"field":"g","type":"nominal"}}},
 {"mark":{"type":"rule","clip":true,"strokeWidth":1.1},"encoding":{"y":{"field":"l","type":"quantitative","scale":{"domain":[0.031,0.205],"nice":false,"zero":false}},"y2":{"field":"h"},"color":{"field":"g","type":"nominal"}}},
 {"mark":{"type":"line","clip":true,"strokeWidth":1.2,"interpolate":"monotone"},"encoding":{"y":{"field":"f","type":"quantitative","scale":{"domain":[0.031,0.205],"nice":false,"zero":false}},"color":{"field":"g","type":"nominal"}}},
 {"mark":{"type":"point","shape":"square","filled":true,"size":8,"opacity":1},"encoding":{"y":{"field":"y","type":"quantitative","scale":{"domain":[0.031,0.205],"nice":false,"zero":false}},"color":{"field":"g","type":"nominal","legend":{"title":null,"labelExpr":"datum.value=='C'?'Classical fitness-inferred CH':datum.value=='N'?'New fitness-inferred CH':'Classical non fitness-inferred CH'"}}}},
 {"mark":{"type":"rule","color":"#888","strokeWidth":0.8},"encoding":{"x":{"datum":0.003}}}
 ]}}
]}
]}
],
"config":{
 "view":{"stroke":null},
 "font":"Liberation Sans",
 "axis":{"grid":false,"labelFontSize":7,"titleFontSize":7,"titleFontWeight":"normal","labelColor":"#333","titleColor":"#333","domainColor":"#888","tickColor":"#888","tickSize":2,"labelPadding":1,"titlePadding":0.5,"titleLineHeight":7.5},
 "axisX":{"domainColor":"#bbb","domainWidth":1.5,"titleFontSize":8,"titlePadding":2},
 "header":{"labelFontSize":7,"labelFontWeight":"normal","labelColor":"#333","labelPadding":1,"labelFont":"Liberation Sans"},
 "legend":{"orient":"none","legendX":23,"legendY":383,"labelFontSize":7.5,"labelColor":"#222","symbolType":"M-1.5,-0.5H1.5V0.5H-1.5Z","symbolSize":44,"symbolStrokeWidth":0,"symbolOpacity":1,"strokeColor":"#ddd","padding":4,"cornerRadius":3,"fillColor":"white","rowPadding":1.5,"labelLimit":300}
}
}
